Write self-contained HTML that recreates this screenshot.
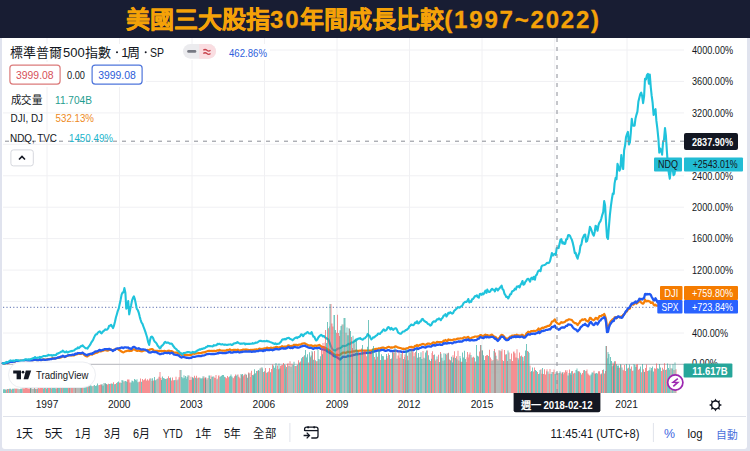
<!DOCTYPE html>
<html lang="zh-TW"><head><meta charset="utf-8">
<style>
html,body{margin:0;padding:0;}
body{width:750px;height:451px;overflow:hidden;background:#e0e3ee;position:relative;font-family:"Liberation Sans",sans-serif;}
#panel{position:absolute;left:2px;top:38px;width:745px;height:410.5px;background:#fff;border-radius:0 0 3px 3px;}
#banner{position:absolute;left:0;top:0;width:750px;height:38px;background:#181d33;}
#title{position:absolute;left:126px;top:4px;font-size:24px;font-weight:700;color:#f5a208;-webkit-text-stroke:0.3px #f5a208;white-space:nowrap;line-height:32px;letter-spacing:0px;}
#title span{letter-spacing:1.8px;}
svg{position:absolute;left:0;top:0;}
.t{font-family:"Liberation Sans",sans-serif;}
</style></head><body>
<div id="panel"></div>
<div id="banner"><div id="title">美國三大股指<span>30</span>年間成長比較<span>(1997~2022)</span></div></div>
<svg width="750" height="451" viewBox="0 0 750 451">
  <g stroke="#f0f0f3" stroke-width="1"><line x1="3" x2="684" y1="333.0" y2="333.0"/><line x1="3" x2="684" y1="301.5" y2="301.5"/><line x1="3" x2="684" y1="270.1" y2="270.1"/><line x1="3" x2="684" y1="238.6" y2="238.6"/><line x1="3" x2="684" y1="207.2" y2="207.2"/><line x1="3" x2="684" y1="175.8" y2="175.8"/><line x1="3" x2="684" y1="144.3" y2="144.3"/><line x1="3" x2="684" y1="112.9" y2="112.9"/><line x1="3" x2="684" y1="81.4" y2="81.4"/><line x1="3" x2="684" y1="50.0" y2="50.0"/><line x1="47.0" x2="47.0" y1="38" y2="393"/><line x1="119.5" x2="119.5" y1="38" y2="393"/><line x1="192.0" x2="192.0" y1="38" y2="393"/><line x1="264.5" x2="264.5" y1="38" y2="393"/><line x1="337.0" x2="337.0" y1="38" y2="393"/><line x1="409.5" x2="409.5" y1="38" y2="393"/><line x1="482.0" x2="482.0" y1="38" y2="393"/><line x1="554.7" x2="554.7" y1="38" y2="393"/><line x1="627.0" x2="627.0" y1="38" y2="393"/></g>
  <line x1="3" x2="684" y1="364.4" y2="364.4" stroke="#c2c3c8" stroke-width="1.2"/>
  <line x1="3" x2="656" y1="307.3" y2="307.3" stroke="#5a6fb0" stroke-width="1" stroke-dasharray="1.2 2.2"/>
  <g fill="none" stroke-linejoin="round" stroke-linecap="round">
    <path d="M2.7 363.3 L2.8 363.3 L3.8 363.5 L4.8 363.3 L5.7 363.1 L6.6 362.8 L7.6 363.1 L8.5 362.5 L9.5 362.1 L10.4 361.8 L11.4 361.8 L12.3 361.7 L13.3 361.5 L14.2 361.7 L15.2 361.4 L16.1 360.8 L17.1 361.1 L18.1 361.0 L19.0 360.9 L19.9 361.1 L20.9 360.6 L21.8 360.9 L22.8 360.9 L23.8 360.8 L24.7 360.2 L25.6 360.1 L26.6 360.2 L27.5 360.3 L28.5 360.4 L29.4 360.9 L30.4 361.0 L31.3 360.3 L32.3 360.7 L33.2 360.2 L34.2 359.5 L35.1 359.5 L36.1 359.9 L37.0 360.3 L38.0 360.0 L38.9 360.2 L39.9 359.4 L40.9 360.1 L41.8 359.9 L42.8 359.6 L43.7 359.4 L44.6 359.7 L45.6 359.7 L46.5 359.5 L47.5 359.2 L48.4 359.2 L49.4 359.0 L50.3 358.8 L51.3 358.8 L52.2 358.2 L53.2 358.4 L54.1 358.3 L55.1 358.5 L56.0 358.3 L57.0 358.1 L57.9 357.7 L58.9 357.9 L59.8 357.7 L60.8 357.4 L61.8 356.9 L62.7 356.2 L63.6 356.6 L64.6 357.1 L65.5 356.7 L66.5 356.2 L67.5 355.8 L68.4 355.2 L69.3 355.4 L70.3 355.5 L71.2 355.4 L72.2 355.5 L73.1 355.5 L74.1 355.4 L75.0 354.9 L76.0 354.1 L77.0 354.3 L77.9 353.2 L78.8 353.9 L79.8 354.0 L80.8 353.9 L81.7 353.5 L82.6 352.9 L83.6 354.3 L84.5 355.1 L85.5 355.9 L86.5 356.3 L87.4 356.4 L88.3 355.4 L89.3 355.1 L90.2 354.3 L91.2 354.5 L92.1 354.7 L93.1 353.9 L94.0 353.7 L95.0 353.2 L95.9 352.8 L96.9 352.7 L97.8 352.2 L98.8 351.6 L99.8 351.1 L100.7 351.4 L101.6 351.2 L102.6 350.6 L103.5 350.6 L104.5 350.0 L105.4 350.0 L106.4 350.4 L107.3 350.6 L108.3 350.4 L109.2 349.4 L110.2 350.0 L111.1 349.7 L112.1 350.0 L113.0 350.3 L114.0 349.5 L114.9 349.6 L115.9 348.8 L116.8 348.9 L117.8 348.9 L118.8 349.8 L119.7 350.3 L120.6 350.9 L121.6 351.7 L122.5 351.9 L123.5 352.4 L124.4 351.9 L125.4 351.3 L126.3 351.1 L127.3 350.9 L128.2 350.4 L129.2 351.1 L130.2 350.7 L131.1 351.0 L132.0 350.6 L133.0 349.2 L133.9 349.4 L134.9 349.7 L135.8 350.3 L136.8 350.9 L137.8 350.8 L138.7 350.4 L139.7 351.0 L140.6 351.1 L141.5 351.3 L142.5 351.1 L143.4 350.8 L144.4 350.4 L145.3 350.3 L146.3 350.3 L147.2 349.9 L148.2 350.0 L149.2 350.0 L150.1 349.4 L151.0 349.3 L152.0 349.0 L152.9 349.5 L153.9 350.7 L154.8 350.8 L155.8 350.8 L156.8 350.9 L157.7 350.9 L158.7 351.0 L159.6 350.9 L160.5 351.1 L161.5 350.9 L162.4 351.2 L163.4 351.0 L164.3 350.9 L165.3 351.2 L166.2 351.3 L167.2 351.1 L168.2 350.8 L169.1 350.7 L170.0 351.2 L171.0 351.1 L171.9 351.1 L172.9 351.7 L173.8 352.5 L174.8 352.6 L175.8 352.6 L176.7 352.6 L177.7 352.8 L178.6 353.0 L179.5 353.7 L180.5 354.2 L181.4 354.8 L182.4 354.6 L183.3 354.3 L184.3 354.8 L185.2 354.9 L186.2 355.1 L187.1 354.8 L188.1 355.0 L189.0 355.1 L190.0 354.8 L190.9 355.2 L191.9 354.2 L192.8 353.6 L193.8 353.7 L194.8 353.9 L195.7 353.4 L196.6 353.5 L197.6 353.2 L198.5 353.0 L199.5 353.1 L200.4 353.1 L201.4 353.0 L202.3 352.6 L203.3 352.4 L204.2 352.4 L205.2 352.1 L206.1 351.6 L207.1 351.3 L208.0 351.0 L209.0 350.8 L209.9 350.9 L210.9 351.0 L211.8 350.9 L212.8 351.1 L213.8 350.8 L214.7 350.9 L215.6 351.1 L216.6 350.8 L217.5 350.3 L218.5 350.7 L219.4 349.8 L220.4 350.4 L221.3 350.5 L222.3 350.7 L223.2 350.5 L224.2 350.8 L225.1 350.5 L226.1 350.6 L227.0 349.9 L228.0 350.0 L228.9 349.7 L229.9 349.3 L230.8 349.9 L231.8 350.5 L232.8 350.1 L233.7 349.8 L234.6 349.8 L235.6 349.9 L236.5 350.0 L237.5 349.7 L238.4 349.8 L239.4 350.7 L240.3 350.6 L241.3 350.1 L242.2 350.1 L243.2 349.6 L244.1 349.6 L245.1 350.1 L246.0 349.3 L247.0 350.0 L247.9 349.7 L248.9 350.0 L249.8 350.0 L250.8 349.8 L251.8 350.1 L252.7 349.8 L253.6 349.9 L254.6 349.7 L255.5 349.6 L256.5 349.4 L257.4 349.5 L258.4 349.2 L259.3 348.6 L260.3 348.8 L261.2 349.0 L262.2 348.8 L263.1 349.1 L264.1 348.4 L265.1 348.7 L266.0 348.1 L266.9 347.6 L267.9 348.1 L268.8 348.2 L269.8 348.2 L270.8 347.7 L271.7 347.8 L272.6 348.2 L273.6 347.7 L274.6 347.8 L275.5 347.0 L276.4 347.2 L277.4 347.1 L278.3 347.5 L279.3 347.5 L280.2 347.0 L281.2 346.7 L282.1 346.2 L283.1 346.6 L284.1 346.8 L285.0 346.4 L285.9 347.0 L286.9 346.4 L287.8 345.6 L288.8 345.3 L289.8 346.0 L290.7 346.0 L291.6 345.9 L292.6 346.3 L293.6 344.9 L294.5 344.8 L295.4 344.8 L296.4 344.8 L297.3 345.1 L298.3 345.0 L299.2 344.6 L300.2 344.6 L301.1 344.3 L302.1 343.7 L303.1 343.5 L304.0 343.4 L304.9 343.4 L305.9 344.0 L306.8 344.4 L307.8 344.9 L308.8 345.4 L309.7 345.6 L310.6 345.4 L311.6 345.4 L312.6 346.2 L313.5 346.6 L314.4 345.5 L315.4 345.5 L316.3 345.9 L317.3 345.7 L318.2 345.4 L319.2 344.9 L320.1 345.5 L321.1 346.3 L322.1 346.9 L323.0 347.0 L323.9 347.1 L324.9 347.8 L325.8 348.1 L326.8 348.9 L327.8 349.3 L328.7 350.0 L329.6 350.4 L330.6 351.3 L331.6 352.1 L332.5 352.9 L333.4 353.9 L334.4 354.6 L335.3 355.0 L336.3 354.9 L337.2 354.7 L338.2 355.2 L339.1 355.2 L340.1 354.8 L341.1 353.8 L342.0 353.3 L342.9 352.6 L343.9 352.5 L344.8 352.6 L345.8 352.8 L346.8 352.4 L347.7 351.7 L348.6 351.8 L349.6 352.1 L350.6 352.2 L351.5 351.7 L352.4 351.6 L353.4 351.4 L354.3 351.4 L355.3 351.0 L356.2 350.6 L357.2 351.1 L358.1 350.9 L359.1 350.8 L360.1 350.5 L361.0 350.7 L361.9 350.7 L362.9 350.5 L363.8 350.5 L364.8 350.7 L365.8 350.5 L366.7 350.6 L367.6 350.5 L368.6 350.5 L369.5 350.6 L370.5 350.7 L371.4 350.8 L372.4 350.0 L373.3 349.5 L374.3 349.5 L375.2 349.0 L376.2 348.8 L377.1 348.8 L378.1 348.6 L379.0 348.3 L380.0 348.5 L380.9 348.1 L381.9 347.7 L382.8 347.7 L383.8 347.6 L384.8 348.2 L385.7 348.2 L386.6 347.8 L387.6 347.2 L388.5 346.9 L389.5 347.0 L390.4 347.7 L391.4 347.4 L392.3 347.6 L393.3 347.3 L394.2 347.1 L395.2 346.4 L396.1 346.6 L397.1 347.1 L398.0 347.6 L399.0 347.7 L399.9 348.0 L400.9 348.1 L401.8 348.6 L402.8 348.8 L403.8 348.7 L404.7 348.9 L405.6 348.8 L406.6 348.3 L407.5 348.4 L408.5 347.7 L409.4 347.0 L410.4 347.1 L411.3 346.8 L412.3 347.1 L413.2 347.6 L414.2 346.8 L415.1 345.9 L416.1 345.9 L417.0 345.0 L418.0 346.1 L418.9 345.5 L419.9 344.9 L420.8 344.8 L421.8 344.3 L422.8 343.9 L423.7 344.0 L424.6 344.7 L425.6 344.8 L426.5 344.3 L427.5 343.7 L428.4 343.7 L429.4 343.6 L430.3 344.1 L431.3 343.7 L432.2 343.1 L433.2 342.3 L434.1 342.5 L435.1 343.1 L436.0 342.6 L437.0 341.9 L437.9 342.1 L438.9 342.2 L439.8 342.0 L440.8 342.2 L441.8 342.1 L442.7 342.0 L443.6 340.6 L444.6 340.8 L445.5 340.0 L446.5 341.1 L447.4 340.9 L448.4 339.5 L449.3 340.0 L450.3 339.8 L451.2 340.1 L452.2 340.1 L453.1 339.9 L454.1 339.3 L455.0 339.6 L456.0 339.3 L456.9 338.9 L457.9 338.6 L458.8 338.7 L459.8 338.5 L460.8 338.3 L461.7 338.5 L462.6 338.4 L463.6 337.6 L464.5 337.3 L465.5 337.6 L466.4 337.8 L467.4 337.0 L468.3 336.9 L469.3 338.6 L470.2 338.3 L471.2 337.9 L472.1 337.5 L473.1 337.4 L474.0 336.9 L475.0 336.5 L475.9 336.5 L476.9 336.8 L477.8 336.4 L478.8 336.3 L479.8 335.5 L480.7 335.0 L481.6 335.5 L482.6 335.9 L483.5 336.0 L484.5 335.2 L485.4 334.6 L486.4 335.7 L487.3 335.0 L488.3 335.6 L489.2 335.5 L490.2 335.6 L491.1 334.9 L492.1 334.7 L493.0 335.5 L494.0 336.3 L494.9 336.9 L495.9 337.2 L496.8 338.6 L497.8 339.3 L498.8 338.4 L499.7 337.4 L500.6 335.8 L501.6 334.9 L502.5 335.0 L503.5 335.9 L504.4 337.0 L505.4 337.9 L506.3 338.6 L507.3 338.6 L508.2 338.2 L509.2 337.7 L510.1 336.5 L511.1 336.4 L512.0 335.7 L513.0 335.6 L513.9 335.8 L514.9 335.2 L515.9 335.8 L516.8 334.7 L517.8 335.7 L518.7 335.3 L519.6 335.8 L520.6 335.5 L521.5 334.8 L522.5 334.9 L523.4 335.8 L524.4 336.4 L525.4 335.7 L526.3 333.6 L527.2 332.9 L528.2 331.7 L529.1 332.2 L530.1 332.1 L531.0 331.2 L532.0 331.0 L532.9 331.1 L533.9 330.8 L534.9 331.1 L535.8 330.8 L536.8 330.4 L537.7 329.7 L538.6 328.5 L539.6 330.3 L540.5 329.3 L541.5 328.1 L542.4 327.6 L543.4 328.3 L544.4 327.3 L545.3 326.9 L546.2 326.8 L547.2 326.2 L548.1 325.9 L549.1 325.8 L550.0 325.1 L551.0 323.8 L551.9 321.6 L552.9 321.5 L553.9 320.5 L554.8 319.4 L555.8 321.8 L556.7 322.5 L557.6 323.6 L558.6 324.0 L559.5 324.1 L560.5 322.9 L561.4 322.1 L562.4 322.7 L563.4 322.4 L564.3 322.1 L565.2 321.7 L566.2 320.3 L567.1 320.5 L568.1 319.8 L569.0 319.3 L570.0 319.5 L570.9 319.7 L571.9 320.1 L572.9 321.4 L573.8 322.4 L574.8 323.2 L575.7 323.0 L576.6 323.9 L577.6 325.1 L578.5 323.6 L579.5 322.7 L580.4 320.8 L581.4 320.4 L582.4 319.4 L583.3 319.9 L584.2 319.4 L585.2 319.1 L586.1 320.6 L587.1 321.1 L588.0 321.6 L589.0 320.1 L589.9 317.8 L590.9 318.1 L591.9 319.5 L592.8 319.8 L593.8 320.3 L594.7 319.5 L595.6 317.9 L596.6 318.1 L597.5 319.3 L598.5 318.0 L599.4 316.2 L600.4 316.0 L601.4 316.1 L602.3 315.1 L603.2 315.1 L604.2 313.9 L605.1 316.0 L606.1 319.6 L607.0 328.6 L608.0 328.7 L608.9 325.3 L609.9 322.8 L610.9 321.0 L611.8 320.3 L612.8 319.1 L613.7 320.3 L614.6 317.4 L615.6 317.4 L616.5 318.3 L617.5 316.8 L618.4 316.8 L619.4 317.4 L620.4 316.9 L621.3 316.4 L622.2 316.7 L623.2 314.7 L624.1 314.4 L625.1 313.1 L626.0 311.8 L627.0 311.4 L627.9 309.4 L628.9 309.0 L629.9 308.5 L630.8 305.7 L631.8 304.3 L632.7 304.4 L633.6 304.7 L634.6 303.3 L635.5 302.6 L636.5 303.7 L637.4 303.0 L638.4 302.2 L639.4 300.3 L640.3 301.4 L641.2 302.6 L642.2 303.4 L643.1 303.7 L644.1 302.6 L645.0 299.6 L646.0 301.1 L646.9 301.4 L647.9 300.8 L648.9 301.3 L649.8 301.3 L650.8 302.9 L651.7 302.6 L652.6 302.3 L653.6 304.6 L654.5 305.3 L655.5 304.7 L656.4 305.7 L657.4 305.5 L658.4 305.9 L659.3 306.4 L660.2 305.5 L661.2 306.2 L662.1 306.2 L663.1 305.2 L664.0 304.9 L665.0 305.2 L665.9 303.8 L666.9 303.3 L667.9 303.9 L668.8 303.4 L669.8 303.8 L670.7 303.5 L671.6 302.3 L672.6 302.8 L673.5 303.7 L674.5 304.6 L675.4 304.4 L676.0 304.7" stroke="#f67f06" stroke-width="2.2"/>
    <path d="M2.7 363.3 L2.8 363.2 L3.8 363.3 L4.8 363.4 L5.7 362.8 L6.6 362.7 L7.6 362.8 L8.5 362.4 L9.5 362.2 L10.4 362.0 L11.4 361.8 L12.3 361.8 L13.3 361.5 L14.2 361.6 L15.2 361.3 L16.1 360.6 L17.1 360.8 L18.1 361.0 L19.0 361.1 L19.9 361.0 L20.9 360.9 L21.8 361.0 L22.8 360.7 L23.8 360.8 L24.7 360.3 L25.6 360.0 L26.6 360.1 L27.5 360.7 L28.5 360.5 L29.4 361.0 L30.4 361.1 L31.3 360.6 L32.3 360.7 L33.2 360.0 L34.2 359.9 L35.1 359.5 L36.1 359.9 L37.0 360.2 L38.0 360.3 L38.9 360.0 L39.9 359.3 L40.9 360.3 L41.8 359.9 L42.8 359.7 L43.7 359.6 L44.6 359.8 L45.6 359.8 L46.5 359.7 L47.5 359.6 L48.4 359.4 L49.4 359.3 L50.3 359.1 L51.3 359.1 L52.2 358.7 L53.2 358.7 L54.1 358.5 L55.1 358.7 L56.0 358.3 L57.0 357.9 L57.9 357.5 L58.9 357.5 L59.8 357.2 L60.8 356.6 L61.8 356.6 L62.7 355.7 L63.6 356.1 L64.6 356.9 L65.5 356.4 L66.5 356.0 L67.5 355.7 L68.4 355.4 L69.3 355.2 L70.3 355.2 L71.2 355.1 L72.2 354.7 L73.1 354.7 L74.1 354.9 L75.0 353.9 L76.0 353.6 L77.0 353.8 L77.9 353.0 L78.8 353.2 L79.8 353.2 L80.8 353.4 L81.7 353.0 L82.6 352.6 L83.6 353.5 L84.5 354.1 L85.5 354.7 L86.5 354.8 L87.4 355.3 L88.3 354.3 L89.3 354.2 L90.2 353.8 L91.2 353.6 L92.1 353.9 L93.1 352.9 L94.0 352.4 L95.0 351.6 L95.9 351.5 L96.9 351.4 L97.8 351.1 L98.8 350.4 L99.8 349.9 L100.7 350.6 L101.6 350.2 L102.6 349.8 L103.5 349.8 L104.5 349.1 L105.4 349.2 L106.4 349.2 L107.3 349.1 L108.3 349.3 L109.2 348.8 L110.2 349.4 L111.1 349.7 L112.1 350.3 L113.0 351.0 L114.0 350.1 L114.9 349.8 L115.9 348.9 L116.8 348.7 L117.8 348.3 L118.8 348.3 L119.7 348.1 L120.6 348.0 L121.6 347.5 L122.5 347.6 L123.5 348.1 L124.4 347.4 L125.4 347.3 L126.3 347.5 L127.3 347.6 L128.2 347.5 L129.2 348.6 L130.2 348.4 L131.1 349.1 L132.0 348.4 L133.0 347.0 L133.9 346.8 L134.9 347.3 L135.8 348.0 L136.8 348.7 L137.8 348.6 L138.7 348.2 L139.7 348.8 L140.6 349.2 L141.5 349.6 L142.5 349.3 L143.4 349.4 L144.4 349.6 L145.3 349.7 L146.3 350.3 L147.2 350.6 L148.2 351.8 L149.2 352.4 L150.1 352.5 L151.0 352.4 L152.0 352.0 L152.9 351.7 L153.9 352.0 L154.8 352.1 L155.8 352.0 L156.8 352.3 L157.7 353.2 L158.7 353.4 L159.6 354.1 L160.5 354.2 L161.5 353.7 L162.4 353.7 L163.4 353.6 L164.3 352.9 L165.3 352.8 L166.2 352.9 L167.2 353.1 L168.2 352.7 L169.1 352.8 L170.0 353.5 L171.0 353.0 L171.9 352.7 L172.9 353.3 L173.8 354.4 L174.8 354.7 L175.8 354.8 L176.7 355.0 L177.7 355.1 L178.6 355.4 L179.5 356.3 L180.5 356.9 L181.4 357.5 L182.4 357.1 L183.3 356.6 L184.3 357.2 L185.2 357.4 L186.2 357.8 L187.1 357.6 L188.1 357.8 L189.0 358.2 L190.0 357.8 L190.9 358.0 L191.9 357.4 L192.8 356.6 L193.8 356.8 L194.8 356.8 L195.7 356.5 L196.6 356.3 L197.6 356.2 L198.5 356.0 L199.5 356.1 L200.4 356.1 L201.4 356.1 L202.3 355.6 L203.3 355.5 L204.2 355.3 L205.2 355.0 L206.1 354.4 L207.1 354.2 L208.0 354.0 L209.0 353.9 L209.9 353.9 L210.9 354.1 L211.8 354.0 L212.8 354.1 L213.8 353.9 L214.7 354.0 L215.6 353.8 L216.6 353.7 L217.5 353.1 L218.5 353.3 L219.4 352.6 L220.4 352.9 L221.3 352.8 L222.3 353.0 L223.2 353.1 L224.2 353.2 L225.1 353.2 L226.1 353.0 L227.0 352.6 L228.0 352.5 L228.9 352.1 L229.9 351.7 L230.8 352.6 L231.8 352.6 L232.8 352.5 L233.7 351.9 L234.6 352.1 L235.6 352.1 L236.5 352.2 L237.5 351.7 L238.4 351.9 L239.4 352.5 L240.3 352.3 L241.3 351.9 L242.2 352.0 L243.2 351.6 L244.1 351.6 L245.1 351.7 L246.0 351.4 L247.0 351.6 L247.9 351.7 L248.9 351.4 L249.8 351.5 L250.8 351.5 L251.8 351.9 L252.7 351.5 L253.6 351.5 L254.6 351.5 L255.5 351.5 L256.5 351.2 L257.4 351.2 L258.4 351.1 L259.3 350.5 L260.3 350.7 L261.2 350.6 L262.2 350.7 L263.1 351.1 L264.1 350.1 L265.1 350.7 L266.0 350.0 L266.9 349.7 L267.9 350.2 L268.8 350.1 L269.8 350.0 L270.8 349.7 L271.7 349.8 L272.6 350.3 L273.6 349.7 L274.6 349.5 L275.5 348.9 L276.4 349.0 L277.4 349.1 L278.3 349.4 L279.3 349.3 L280.2 348.9 L281.2 348.5 L282.1 348.2 L283.1 348.5 L284.1 348.5 L285.0 348.6 L285.9 348.5 L286.9 348.1 L287.8 347.4 L288.8 347.0 L289.8 347.9 L290.7 348.0 L291.6 347.6 L292.6 348.1 L293.6 347.3 L294.5 346.9 L295.4 347.2 L296.4 347.4 L297.3 347.5 L298.3 347.7 L299.2 347.4 L300.2 347.0 L301.1 346.4 L302.1 346.3 L303.1 345.9 L304.0 345.8 L304.9 345.7 L305.9 346.3 L306.8 346.6 L307.8 347.3 L308.8 347.7 L309.7 347.8 L310.6 347.7 L311.6 347.8 L312.6 348.6 L313.5 348.9 L314.4 348.1 L315.4 348.1 L316.3 348.1 L317.3 348.3 L318.2 347.8 L319.2 347.7 L320.1 348.4 L321.1 349.0 L322.1 349.3 L323.0 349.4 L323.9 349.4 L324.9 350.0 L325.8 350.2 L326.8 351.1 L327.8 351.7 L328.7 352.1 L329.6 353.1 L330.6 353.1 L331.6 354.0 L332.5 354.6 L333.4 355.7 L334.4 356.3 L335.3 356.7 L336.3 357.0 L337.2 357.3 L338.2 358.1 L339.1 358.7 L340.1 359.5 L341.1 358.4 L342.0 357.8 L342.9 356.7 L343.9 356.8 L344.8 356.9 L345.8 356.8 L346.8 356.6 L347.7 356.0 L348.6 355.9 L349.6 356.2 L350.6 355.8 L351.5 355.5 L352.4 355.5 L353.4 355.0 L354.3 354.9 L355.3 354.6 L356.2 354.0 L357.2 354.4 L358.1 354.1 L359.1 354.0 L360.1 353.6 L361.0 353.6 L361.9 353.5 L362.9 353.4 L363.8 353.0 L364.8 353.2 L365.8 352.8 L366.7 353.0 L367.6 352.9 L368.6 352.8 L369.5 352.6 L370.5 353.0 L371.4 352.7 L372.4 352.1 L373.3 351.6 L374.3 351.7 L375.2 351.0 L376.2 351.0 L377.1 350.8 L378.1 350.4 L379.0 350.6 L380.0 350.5 L380.9 350.1 L381.9 349.8 L382.8 349.8 L383.8 350.0 L384.8 350.7 L385.7 350.9 L386.6 350.7 L387.6 350.2 L388.5 350.1 L389.5 350.3 L390.4 351.0 L391.4 350.8 L392.3 351.3 L393.3 351.0 L394.2 351.0 L395.2 350.6 L396.1 350.7 L397.1 351.0 L398.0 351.4 L399.0 351.4 L399.9 351.3 L400.9 351.5 L401.8 352.0 L402.8 351.8 L403.8 351.7 L404.7 351.9 L405.6 351.7 L406.6 351.6 L407.5 351.4 L408.5 350.7 L409.4 350.1 L410.4 350.1 L411.3 349.9 L412.3 350.1 L413.2 350.3 L414.2 349.7 L415.1 348.8 L416.1 348.7 L417.0 348.2 L418.0 349.0 L418.9 348.5 L419.9 348.0 L420.8 347.8 L421.8 347.2 L422.8 346.9 L423.7 347.2 L424.6 347.4 L425.6 347.6 L426.5 346.8 L427.5 346.5 L428.4 346.4 L429.4 346.3 L430.3 346.7 L431.3 346.5 L432.2 345.6 L433.2 345.1 L434.1 345.1 L435.1 345.6 L436.0 345.2 L437.0 344.5 L437.9 344.8 L438.9 344.6 L439.8 344.4 L440.8 344.9 L441.8 344.9 L442.7 344.4 L443.6 343.1 L444.6 343.7 L445.5 343.1 L446.5 343.5 L447.4 343.4 L448.4 342.8 L449.3 343.2 L450.3 342.8 L451.2 343.0 L452.2 343.4 L453.1 342.9 L454.1 342.2 L455.0 342.3 L456.0 342.3 L456.9 341.9 L457.9 341.7 L458.8 341.4 L459.8 341.8 L460.8 341.4 L461.7 341.6 L462.6 341.2 L463.6 340.3 L464.5 340.1 L465.5 339.9 L466.4 340.3 L467.4 339.7 L468.3 339.4 L469.3 340.4 L470.2 340.5 L471.2 340.2 L472.1 340.0 L473.1 340.3 L474.0 340.4 L475.0 340.1 L475.9 340.1 L476.9 339.7 L477.8 338.9 L478.8 338.7 L479.8 337.4 L480.7 337.0 L481.6 337.6 L482.6 337.8 L483.5 338.1 L484.5 337.1 L485.4 336.7 L486.4 337.3 L487.3 336.7 L488.3 337.3 L489.2 337.4 L490.2 337.2 L491.1 336.8 L492.1 336.8 L493.0 336.9 L494.0 337.8 L494.9 338.8 L495.9 338.7 L496.8 340.0 L497.8 341.0 L498.8 339.8 L499.7 339.0 L500.6 337.4 L501.6 336.5 L502.5 336.8 L503.5 336.8 L504.4 338.6 L505.4 339.3 L506.3 340.1 L507.3 340.1 L508.2 339.9 L509.2 338.9 L510.1 337.7 L511.1 338.0 L512.0 337.0 L513.0 337.2 L513.9 336.9 L514.9 336.3 L515.9 337.2 L516.8 336.4 L517.8 336.9 L518.7 336.4 L519.6 337.1 L520.6 336.8 L521.5 336.6 L522.5 336.6 L523.4 337.5 L524.4 337.7 L525.4 337.2 L526.3 335.9 L527.2 335.1 L528.2 334.2 L529.1 334.5 L530.1 334.6 L531.0 333.9 L532.0 333.7 L532.9 333.8 L533.9 333.5 L534.9 334.0 L535.8 333.4 L536.8 333.1 L537.7 332.7 L538.6 331.7 L539.6 333.0 L540.5 332.4 L541.5 331.1 L542.4 331.0 L543.4 331.0 L544.4 330.6 L545.3 330.3 L546.2 329.8 L547.2 329.9 L548.1 329.6 L549.1 329.2 L550.0 329.5 L551.0 328.2 L551.9 326.9 L552.9 327.2 L553.9 326.4 L554.8 325.6 L555.8 327.8 L556.7 328.1 L557.6 328.8 L558.6 329.8 L559.5 329.4 L560.5 328.3 L561.4 327.6 L562.4 327.5 L563.4 327.5 L564.3 327.5 L565.2 326.8 L566.2 325.8 L567.1 325.9 L568.1 324.4 L569.0 324.6 L570.0 324.7 L570.9 324.8 L571.9 325.8 L572.9 327.5 L573.8 328.3 L574.8 329.1 L575.7 329.3 L576.6 330.3 L577.6 331.4 L578.5 330.3 L579.5 329.4 L580.4 327.6 L581.4 326.6 L582.4 325.8 L583.3 324.9 L584.2 324.9 L585.2 323.8 L586.1 325.1 L587.1 325.6 L588.0 326.3 L589.0 324.6 L589.9 322.7 L590.9 322.0 L591.9 323.3 L592.8 324.4 L593.8 325.0 L594.7 324.3 L595.6 322.7 L596.6 323.0 L597.5 324.5 L598.5 322.9 L599.4 321.0 L600.4 320.5 L601.4 319.1 L602.3 318.6 L603.2 318.1 L604.2 317.0 L605.1 318.0 L606.1 322.5 L607.0 332.1 L608.0 331.9 L608.9 327.7 L609.9 324.9 L610.9 323.4 L611.8 322.1 L612.8 320.9 L613.7 321.1 L614.6 318.5 L615.6 317.4 L616.5 318.0 L617.5 316.7 L618.4 316.3 L619.4 316.9 L620.4 317.4 L621.3 317.8 L622.2 317.6 L623.2 315.8 L624.1 314.5 L625.1 312.7 L626.0 311.2 L627.0 310.3 L627.9 308.3 L628.9 307.9 L629.9 307.0 L630.8 305.1 L631.8 303.4 L632.7 303.8 L633.6 302.9 L634.6 302.6 L635.5 301.5 L636.5 302.7 L637.4 301.4 L638.4 300.8 L639.4 298.7 L640.3 299.3 L641.2 298.8 L642.2 299.6 L643.1 298.6 L644.1 298.1 L645.0 294.2 L646.0 294.0 L646.9 294.6 L647.9 294.0 L648.9 294.3 L649.8 294.0 L650.8 294.9 L651.7 297.0 L652.6 298.4 L653.6 300.3 L654.5 300.4 L655.5 298.2 L656.4 299.8 L657.4 302.3 L658.4 302.4 L659.3 303.6 L660.2 303.1 L661.2 303.7 L662.1 305.1 L663.1 304.4 L664.0 305.0 L665.0 305.0 L665.9 304.1 L666.9 303.7 L667.9 305.4 L668.8 303.5 L669.8 303.4 L670.7 303.1 L671.6 303.2 L672.6 303.3 L673.5 305.6 L674.5 307.0 L675.4 307.3 L676.0 307.5" stroke="#2058f2" stroke-width="2.3"/>
    <path d="M2.7 363.3 L2.8 363.3 L3.8 363.6 L4.8 362.9 L5.7 362.8 L6.6 361.9 L7.6 362.2 L8.5 361.7 L9.5 361.0 L10.4 360.4 L11.4 360.7 L12.3 360.8 L13.3 360.5 L14.2 361.0 L15.2 360.4 L16.1 360.0 L17.1 360.3 L18.1 360.3 L19.0 360.6 L19.9 360.7 L20.9 360.5 L21.8 360.7 L22.8 360.4 L23.8 360.4 L24.7 359.5 L25.6 359.3 L26.6 359.4 L27.5 359.7 L28.5 359.2 L29.4 359.8 L30.4 359.3 L31.3 358.9 L32.3 358.7 L33.2 358.0 L34.2 358.0 L35.1 357.0 L36.1 358.0 L37.0 358.0 L38.0 357.5 L38.9 357.6 L39.9 356.9 L40.9 357.6 L41.8 356.9 L42.8 356.4 L43.7 356.0 L44.6 356.0 L45.6 356.1 L46.5 355.7 L47.5 355.7 L48.4 354.8 L49.4 355.2 L50.3 355.3 L51.3 355.1 L52.2 355.8 L53.2 355.1 L54.1 355.2 L55.1 355.1 L56.0 355.1 L57.0 353.5 L57.9 353.6 L58.9 353.0 L59.8 352.6 L60.8 351.9 L61.8 351.8 L62.7 350.5 L63.6 351.4 L64.6 352.2 L65.5 352.2 L66.5 351.4 L67.5 352.5 L68.4 352.2 L69.3 351.6 L70.3 351.5 L71.2 350.9 L72.2 351.2 L73.1 350.7 L74.1 350.5 L75.0 349.5 L76.0 348.8 L77.0 348.7 L77.9 347.4 L78.8 348.2 L79.8 347.2 L80.8 346.1 L81.7 346.2 L82.6 345.3 L83.6 346.5 L84.5 347.3 L85.5 348.1 L86.5 348.3 L87.4 348.6 L88.3 347.1 L89.3 346.0 L90.2 344.7 L91.2 342.6 L92.1 341.3 L93.1 339.8 L94.0 337.6 L95.0 335.6 L95.9 334.3 L96.9 334.3 L97.8 332.7 L98.8 331.9 L99.8 331.3 L100.7 332.8 L101.6 333.3 L102.6 331.9 L103.5 331.1 L104.5 330.2 L105.4 329.4 L106.4 329.8 L107.3 329.5 L108.3 328.1 L109.2 325.7 L110.2 325.8 L111.1 324.8 L112.1 326.5 L113.0 328.1 L114.0 325.5 L114.9 322.0 L115.9 317.5 L116.8 314.5 L117.8 310.9 L118.8 308.4 L119.7 303.9 L120.6 299.9 L121.6 294.6 L122.5 292.6 L123.5 292.4 L124.4 288.1 L125.4 293.0 L126.3 308.7 L127.3 307.4 L128.2 301.1 L129.2 314.4 L130.2 309.3 L131.1 305.2 L132.0 300.6 L133.0 297.9 L133.9 296.4 L134.9 299.4 L135.8 303.7 L136.8 308.9 L137.8 310.2 L138.7 312.5 L139.7 316.6 L140.6 319.7 L141.5 322.5 L142.5 323.9 L143.4 326.5 L144.4 329.2 L145.3 331.6 L146.3 334.8 L147.2 337.8 L148.2 342.2 L149.2 344.9 L150.1 339.9 L151.0 336.9 L152.0 336.6 L152.9 337.6 L153.9 340.2 L154.8 341.7 L155.8 342.5 L156.8 343.9 L157.7 345.7 L158.7 346.8 L159.6 348.3 L160.5 348.1 L161.5 346.0 L162.4 345.5 L163.4 344.4 L164.3 342.8 L165.3 341.9 L166.2 342.9 L167.2 342.5 L168.2 342.6 L169.1 343.2 L170.0 343.8 L171.0 343.6 L171.9 343.7 L172.9 345.5 L173.8 346.7 L174.8 348.0 L175.8 348.8 L176.7 349.6 L177.7 350.8 L178.6 351.0 L179.5 352.6 L180.5 352.7 L181.4 353.8 L182.4 354.3 L183.3 353.1 L184.3 353.0 L185.2 352.9 L186.2 352.5 L187.1 352.1 L188.1 352.0 L189.0 352.1 L190.0 352.4 L190.9 353.0 L191.9 352.5 L192.8 351.8 L193.8 352.4 L194.8 352.5 L195.7 351.6 L196.6 351.4 L197.6 350.2 L198.5 350.2 L199.5 349.3 L200.4 349.6 L201.4 348.9 L202.3 349.0 L203.3 348.4 L204.2 348.4 L205.2 347.9 L206.1 347.0 L207.1 346.7 L208.0 345.9 L209.0 346.3 L209.9 346.0 L210.9 346.2 L211.8 346.2 L212.8 346.4 L213.8 345.1 L214.7 345.6 L215.6 345.3 L216.6 345.2 L217.5 343.8 L218.5 344.2 L219.4 343.7 L220.4 344.2 L221.3 344.5 L222.3 344.1 L223.2 344.5 L224.2 344.9 L225.1 344.5 L226.1 344.7 L227.0 344.9 L228.0 344.8 L228.9 344.5 L229.9 344.5 L230.8 344.4 L231.8 345.0 L232.8 344.5 L233.7 343.5 L234.6 343.4 L235.6 343.1 L236.5 342.9 L237.5 342.0 L238.4 342.9 L239.4 343.4 L240.3 343.9 L241.3 343.5 L242.2 343.6 L243.2 343.5 L244.1 343.3 L245.1 344.3 L246.0 343.6 L247.0 344.0 L247.9 343.9 L248.9 343.9 L249.8 343.9 L250.8 343.8 L251.8 343.8 L252.7 343.1 L253.6 343.6 L254.6 343.3 L255.5 342.6 L256.5 342.8 L257.4 342.5 L258.4 341.7 L259.3 341.1 L260.3 340.8 L261.2 340.9 L262.2 341.2 L263.1 341.3 L264.1 341.1 L265.1 341.3 L266.0 341.3 L266.9 340.7 L267.9 341.5 L268.8 341.4 L269.8 341.9 L270.8 342.3 L271.7 342.6 L272.6 343.0 L273.6 343.6 L274.6 343.9 L275.5 343.3 L276.4 344.3 L277.4 343.9 L278.3 343.8 L279.3 343.5 L280.2 342.4 L281.2 341.4 L282.1 339.6 L283.1 339.2 L284.1 339.4 L285.0 338.8 L285.9 339.4 L286.9 338.2 L287.8 338.1 L288.8 337.7 L289.8 338.7 L290.7 339.1 L291.6 339.5 L292.6 340.3 L293.6 339.4 L294.5 338.4 L295.4 337.8 L296.4 337.4 L297.3 338.1 L298.3 337.1 L299.2 336.9 L300.2 336.1 L301.1 334.4 L302.1 334.6 L303.1 336.2 L304.0 334.7 L304.9 333.8 L305.9 333.5 L306.8 332.4 L307.8 332.1 L308.8 333.3 L309.7 333.5 L310.6 333.6 L311.6 332.2 L312.6 334.9 L313.5 336.8 L314.4 336.9 L315.4 339.3 L316.3 340.5 L317.3 339.5 L318.2 337.7 L319.2 336.5 L320.1 335.5 L321.1 334.8 L322.1 335.6 L323.0 336.4 L323.9 336.0 L324.9 337.3 L325.8 337.7 L326.8 338.8 L327.8 338.8 L328.7 340.1 L329.6 343.0 L330.6 345.3 L331.6 347.9 L332.5 349.1 L333.4 350.1 L334.4 350.3 L335.3 350.4 L336.3 350.1 L337.2 349.0 L338.2 348.5 L339.1 348.4 L340.1 348.2 L341.1 347.5 L342.0 346.8 L342.9 345.8 L343.9 346.1 L344.8 345.9 L345.8 345.7 L346.8 345.2 L347.7 344.5 L348.6 343.8 L349.6 344.3 L350.6 343.4 L351.5 342.4 L352.4 342.5 L353.4 342.4 L354.3 341.1 L355.3 341.0 L356.2 339.4 L357.2 339.6 L358.1 338.6 L359.1 338.7 L360.1 338.0 L361.0 339.0 L361.9 339.4 L362.9 339.7 L363.8 338.5 L364.8 338.3 L365.8 337.1 L366.7 336.5 L367.6 334.1 L368.6 335.3 L369.5 335.6 L370.5 338.0 L371.4 339.3 L372.4 338.5 L373.3 337.2 L374.3 337.4 L375.2 336.3 L376.2 335.6 L377.1 335.1 L378.1 333.5 L379.0 333.8 L380.0 333.9 L380.9 332.5 L381.9 331.8 L382.8 330.2 L383.8 329.4 L384.8 330.8 L385.7 330.5 L386.6 329.7 L387.6 327.7 L388.5 327.0 L389.5 328.2 L390.4 329.5 L391.4 327.8 L392.3 329.2 L393.3 329.9 L394.2 328.8 L395.2 328.4 L396.1 328.3 L397.1 330.0 L398.0 332.4 L399.0 333.2 L399.9 333.7 L400.9 333.7 L401.8 332.7 L402.8 331.6 L403.8 331.5 L404.7 331.2 L405.6 330.1 L406.6 330.0 L407.5 329.1 L408.5 328.3 L409.4 326.3 L410.4 325.6 L411.3 324.5 L412.3 325.0 L413.2 325.2 L414.2 324.4 L415.1 322.5 L416.1 323.0 L417.0 321.3 L418.0 323.4 L418.9 323.2 L419.9 321.6 L420.8 321.4 L421.8 319.2 L422.8 318.9 L423.7 320.5 L424.6 321.0 L425.6 322.0 L426.5 322.1 L427.5 323.5 L428.4 324.3 L429.4 324.3 L430.3 325.6 L431.3 325.1 L432.2 323.0 L433.2 321.7 L434.1 321.3 L435.1 321.7 L436.0 320.9 L437.0 319.2 L437.9 319.4 L438.9 318.4 L439.8 319.1 L440.8 320.2 L441.8 318.5 L442.7 317.7 L443.6 315.6 L444.6 315.5 L445.5 314.2 L446.5 316.5 L447.4 315.0 L448.4 312.8 L449.3 313.3 L450.3 312.2 L451.2 313.0 L452.2 313.6 L453.1 313.1 L454.1 310.8 L455.0 310.2 L456.0 309.1 L456.9 308.5 L457.9 307.1 L458.8 307.5 L459.8 307.6 L460.8 306.6 L461.7 306.3 L462.6 305.1 L463.6 303.0 L464.5 302.4 L465.5 301.7 L466.4 302.0 L467.4 301.0 L468.3 299.0 L469.3 302.5 L470.2 301.3 L471.2 301.8 L472.1 299.2 L473.1 298.9 L474.0 297.6 L475.0 296.1 L475.9 296.3 L476.9 295.3 L477.8 297.1 L478.8 297.7 L479.8 294.0 L480.7 293.9 L481.6 294.8 L482.6 293.3 L483.5 294.3 L484.5 292.5 L485.4 290.7 L486.4 292.9 L487.3 289.6 L488.3 291.6 L489.2 292.0 L490.2 291.5 L491.1 289.7 L492.1 288.8 L493.0 289.7 L494.0 289.7 L494.9 291.4 L495.9 288.5 L496.8 288.8 L497.8 290.5 L498.8 289.1 L499.7 288.0 L500.6 287.0 L501.6 285.6 L502.5 289.1 L503.5 290.0 L504.4 293.6 L505.4 295.1 L506.3 297.0 L507.3 296.9 L508.2 298.4 L509.2 296.6 L510.1 294.3 L511.1 294.2 L512.0 291.5 L513.0 291.0 L513.9 290.4 L514.9 288.7 L515.9 289.5 L516.8 286.5 L517.8 286.8 L518.7 286.0 L519.6 287.3 L520.6 284.7 L521.5 283.5 L522.5 281.0 L523.4 284.8 L524.4 284.2 L525.4 281.7 L526.3 280.8 L527.2 279.1 L528.2 278.7 L529.1 279.9 L530.1 281.6 L531.0 278.3 L532.0 277.6 L532.9 279.4 L533.9 276.9 L534.9 279.7 L535.8 275.4 L536.8 274.8 L537.7 272.0 L538.6 270.7 L539.6 270.3 L540.5 271.2 L541.5 266.4 L542.4 265.5 L543.4 265.3 L544.4 265.0 L545.3 264.6 L546.2 263.8 L547.2 262.7 L548.1 263.1 L549.1 262.8 L550.0 261.1 L551.0 257.0 L551.9 253.0 L552.9 255.5 L553.9 254.2 L554.8 253.9 L555.8 254.9 L556.7 248.2 L557.6 247.7 L558.6 248.1 L559.5 244.0 L560.5 239.7 L561.4 239.2 L562.4 243.4 L563.4 242.3 L564.3 244.0 L565.2 243.8 L566.2 239.3 L567.1 239.2 L568.1 235.3 L569.0 235.0 L570.0 235.9 L570.9 237.9 L571.9 239.9 L572.9 243.4 L573.8 247.5 L574.8 253.1 L575.7 252.9 L576.6 256.4 L577.6 258.7 L578.5 255.0 L579.5 252.4 L580.4 246.1 L581.4 244.4 L582.4 239.0 L583.3 236.9 L584.2 234.9 L585.2 234.5 L586.1 241.8 L587.1 240.9 L588.0 237.2 L589.0 232.6 L589.9 226.8 L590.9 228.6 L591.9 231.5 L592.8 234.1 L593.8 235.7 L594.7 232.0 L595.6 225.7 L596.6 226.7 L597.5 230.8 L598.5 225.2 L599.4 222.7 L600.4 221.3 L601.4 218.3 L602.3 214.8 L603.2 212.1 L604.2 201.1 L605.1 205.5 L606.1 223.5 L607.0 237.2 L608.0 238.9 L608.9 226.8 L609.9 214.8 L610.9 206.1 L611.8 199.7 L612.8 193.5 L613.7 193.9 L614.6 183.4 L615.6 177.9 L616.5 179.1 L617.5 163.9 L618.4 166.4 L619.4 170.7 L620.4 168.7 L621.3 155.1 L622.2 163.5 L623.2 169.0 L624.1 150.2 L625.1 145.3 L626.0 137.3 L627.0 134.1 L627.9 131.9 L628.9 144.5 L629.9 142.4 L630.8 132.6 L631.8 118.8 L632.7 125.4 L633.6 125.8 L634.6 125.6 L635.5 118.4 L636.5 114.6 L637.4 111.6 L638.4 101.5 L639.4 97.5 L640.3 94.0 L641.2 92.6 L642.2 96.3 L643.1 103.1 L644.1 96.1 L645.0 78.8 L646.0 79.4 L646.9 75.1 L647.9 73.8 L648.9 83.7 L649.8 74.6 L650.8 87.5 L651.7 95.9 L652.6 102.5 L653.6 114.9 L654.5 110.9 L655.5 109.2 L656.4 120.9 L657.4 128.8 L658.4 138.8 L659.3 152.6 L660.2 148.6 L661.2 150.2 L662.1 154.6 L663.1 142.0 L664.0 139.5 L665.0 128.0 L665.9 135.7 L666.9 151.4 L667.9 165.9 L668.8 172.9 L669.8 178.7 L670.7 171.4 L671.6 165.7 L672.6 168.1 L673.5 175.2 L674.5 174.1 L675.4 167.5 L676.0 164.4" stroke="#1fc3dc" stroke-width="2.1"/>
  </g>
  <path d="M6.0 389.6h1.0v3.4h-1.0z M8.0 388.9h1.0v4.1h-1.0z M11.0 389.5h1.0v3.5h-1.0z M14.5 388.8h1.0v4.2h-1.0z M15.5 388.4h1.0v4.6h-1.0z M16.5 388.7h1.0v4.3h-1.0z M18.5 389.3h1.0v3.7h-1.0z M22.5 388.1h1.0v4.9h-1.0z M23.5 388.8h1.0v4.2h-1.0z M24.5 388.0h1.0v5.0h-1.0z M25.5 388.1h1.0v4.9h-1.0z M26.5 387.9h1.0v5.1h-1.0z M27.5 388.4h1.0v4.6h-1.0z M28.5 388.4h1.0v4.6h-1.0z M29.5 388.4h1.0v4.6h-1.0z M30.5 387.4h1.0v5.6h-1.0z M32.5 388.9h1.0v4.1h-1.0z M34.0 387.6h1.0v5.4h-1.0z M36.0 388.8h1.0v4.2h-1.0z M38.0 387.4h1.0v5.6h-1.0z M39.0 388.3h1.0v4.7h-1.0z M40.0 387.5h1.0v5.5h-1.0z M41.0 387.6h1.0v5.4h-1.0z M42.0 387.7h1.0v5.3h-1.0z M45.0 388.1h1.0v4.9h-1.0z M48.0 387.2h1.0v5.8h-1.0z M49.0 387.7h1.0v5.3h-1.0z M51.0 388.3h1.0v4.7h-1.0z M56.0 388.2h1.0v4.8h-1.0z M57.0 386.4h1.0v6.6h-1.0z M60.0 386.5h1.0v6.5h-1.0z M62.0 387.3h1.0v5.7h-1.0z M68.0 385.8h1.0v7.2h-1.0z M69.0 387.2h1.0v5.8h-1.0z M70.5 386.0h1.0v7.0h-1.0z M71.5 386.5h1.0v6.5h-1.0z M72.5 386.1h1.0v6.9h-1.0z M74.5 385.5h1.0v7.5h-1.0z M75.0 386.9h1.0v6.1h-1.0z M76.5 385.2h1.0v7.8h-1.0z M78.5 385.3h1.0v7.7h-1.0z M81.0 385.0h1.0v8.0h-1.0z M81.5 385.7h1.0v7.3h-1.0z M82.5 385.5h1.0v7.5h-1.0z M87.0 384.7h1.0v8.3h-1.0z M89.0 386.2h1.0v6.8h-1.0z M92.5 386.1h1.0v6.9h-1.0z M98.5 385.1h1.0v7.9h-1.0z M99.5 385.0h1.0v8.0h-1.0z M100.0 384.6h1.0v8.4h-1.0z M101.0 384.7h1.0v8.3h-1.0z M104.5 383.5h1.0v9.5h-1.0z M106.5 384.6h1.0v8.4h-1.0z M107.5 384.6h1.0v8.4h-1.0z M108.0 383.7h1.0v9.3h-1.0z M110.0 383.7h1.0v9.3h-1.0z M113.0 382.2h1.0v10.8h-1.0z M116.0 382.9h1.0v10.1h-1.0z M119.0 383.0h1.0v10.0h-1.0z M119.5 382.3h1.0v10.7h-1.0z M123.5 381.7h1.0v11.3h-1.0z M127.0 379.4h1.0v13.6h-1.0z M127.5 379.4h1.0v13.6h-1.0z M128.5 379.4h1.0v13.6h-1.0z M129.5 382.4h1.0v10.6h-1.0z M138.5 381.8h1.0v11.2h-1.0z M139.5 381.6h1.0v11.4h-1.0z M140.0 378.4h1.0v14.6h-1.0z M142.0 378.9h1.0v14.1h-1.0z M143.0 380.3h1.0v12.7h-1.0z M144.0 379.5h1.0v13.5h-1.0z M145.0 378.4h1.0v14.6h-1.0z M146.0 380.4h1.0v12.6h-1.0z M147.0 379.3h1.0v13.7h-1.0z M148.0 380.5h1.0v12.5h-1.0z M149.0 379.3h1.0v13.7h-1.0z M149.5 378.2h1.0v14.8h-1.0z M151.5 381.1h1.0v11.9h-1.0z M153.0 380.7h1.0v12.3h-1.0z M153.5 380.2h1.0v12.8h-1.0z M156.5 379.0h1.0v14.0h-1.0z M158.5 376.8h1.0v16.2h-1.0z M159.5 372.0h1.0v21.0h-1.0z M160.5 377.7h1.0v15.3h-1.0z M166.0 378.7h1.0v14.3h-1.0z M168.0 376.2h1.0v16.8h-1.0z M169.0 377.9h1.0v15.1h-1.0z M169.5 378.4h1.0v14.6h-1.0z M171.0 380.6h1.0v12.4h-1.0z M172.0 377.5h1.0v15.5h-1.0z M173.0 380.3h1.0v12.7h-1.0z M175.5 376.8h1.0v16.2h-1.0z M176.5 380.2h1.0v12.8h-1.0z M178.5 377.2h1.0v15.8h-1.0z M179.5 370.0h1.0v23.0h-1.0z M188.5 375.5h1.0v17.5h-1.0z M189.5 380.0h1.0v13.0h-1.0z M190.5 376.8h1.0v16.2h-1.0z M191.0 379.7h1.0v13.3h-1.0z M192.5 377.5h1.0v15.5h-1.0z M194.0 375.8h1.0v17.2h-1.0z M196.0 375.8h1.0v17.2h-1.0z M197.5 377.7h1.0v15.3h-1.0z M198.5 377.5h1.0v15.5h-1.0z M203.0 378.4h1.0v14.6h-1.0z M203.5 376.4h1.0v16.6h-1.0z M204.5 378.2h1.0v14.8h-1.0z M205.5 377.5h1.0v15.5h-1.0z M207.5 377.9h1.0v15.1h-1.0z M210.5 375.5h1.0v17.5h-1.0z M213.5 376.7h1.0v16.3h-1.0z M214.5 378.0h1.0v15.0h-1.0z M215.5 375.0h1.0v18.0h-1.0z M217.5 378.4h1.0v14.6h-1.0z M218.0 375.6h1.0v17.4h-1.0z M218.5 375.4h1.0v17.6h-1.0z M225.0 377.3h1.0v15.7h-1.0z M226.0 378.3h1.0v14.7h-1.0z M227.0 375.9h1.0v17.1h-1.0z M228.0 377.3h1.0v15.7h-1.0z M232.5 377.8h1.0v15.2h-1.0z M233.0 378.3h1.0v14.7h-1.0z M234.0 376.3h1.0v16.7h-1.0z M235.0 374.6h1.0v18.4h-1.0z M237.5 374.5h1.0v18.5h-1.0z M238.5 376.8h1.0v16.2h-1.0z M239.5 378.2h1.0v14.8h-1.0z M241.0 374.8h1.0v18.2h-1.0z M242.5 376.2h1.0v16.8h-1.0z M243.5 375.1h1.0v17.9h-1.0z M244.5 373.8h1.0v19.2h-1.0z M246.0 374.9h1.0v18.1h-1.0z M248.0 372.4h1.0v20.6h-1.0z M249.5 372.7h1.0v20.3h-1.0z M250.0 376.9h1.0v16.1h-1.0z M251.0 370.8h1.0v22.2h-1.0z M253.5 374.0h1.0v19.0h-1.0z M257.0 370.7h1.0v22.3h-1.0z M258.5 370.9h1.0v22.1h-1.0z M260.5 367.8h1.0v25.2h-1.0z M263.0 372.1h1.0v20.9h-1.0z M265.0 368.0h1.0v25.0h-1.0z M266.0 372.7h1.0v20.3h-1.0z M268.0 371.6h1.0v21.4h-1.0z M269.0 368.0h1.0v25.0h-1.0z M271.0 369.0h1.0v24.0h-1.0z M272.0 364.5h1.0v28.5h-1.0z M276.5 369.0h1.0v24.0h-1.0z M277.0 365.5h1.0v27.5h-1.0z M278.0 369.2h1.0v23.8h-1.0z M280.0 365.7h1.0v27.3h-1.0z M281.0 365.2h1.0v27.8h-1.0z M282.0 365.0h1.0v28.0h-1.0z M283.0 362.9h1.0v30.1h-1.0z M285.0 365.3h1.0v27.7h-1.0z M287.0 363.9h1.0v29.1h-1.0z M287.5 363.3h1.0v29.7h-1.0z M289.5 361.3h1.0v31.7h-1.0z M291.5 363.8h1.0v29.2h-1.0z M294.5 366.1h1.0v26.9h-1.0z M295.5 366.0h1.0v27.0h-1.0z M298.0 360.3h1.0v32.7h-1.0z M300.0 361.6h1.0v31.4h-1.0z M303.0 356.6h1.0v36.4h-1.0z M308.0 362.6h1.0v30.4h-1.0z M310.0 357.2h1.0v35.8h-1.0z M312.0 352.3h1.0v40.7h-1.0z M314.0 351.0h1.0v42.0h-1.0z M316.0 361.5h1.0v31.5h-1.0z M316.5 361.0h1.0v32.0h-1.0z M319.5 359.8h1.0v33.2h-1.0z M321.0 346.5h1.0v46.5h-1.0z M322.5 343.0h1.0v50.0h-1.0z M323.5 346.4h1.0v46.6h-1.0z M324.5 342.6h1.0v50.4h-1.0z M325.0 330.0h1.0v63.0h-1.0z M328.0 328.3h1.0v64.7h-1.0z M330.5 304.0h1.0v89.0h-1.0z M331.5 323.5h1.0v69.5h-1.0z M332.5 326.4h1.0v66.6h-1.0z M336.0 332.7h1.0v60.3h-1.0z M337.0 314.8h1.0v78.2h-1.0z M338.0 333.0h1.0v60.0h-1.0z M339.0 336.0h1.0v57.0h-1.0z M342.5 324.6h1.0v68.4h-1.0z M345.5 332.8h1.0v60.2h-1.0z M349.0 328.8h1.0v64.2h-1.0z M351.0 336.9h1.0v56.1h-1.0z M352.0 348.1h1.0v44.9h-1.0z M353.5 343.4h1.0v49.6h-1.0z M355.5 350.3h1.0v42.7h-1.0z M358.0 350.9h1.0v42.1h-1.0z M359.0 353.8h1.0v39.2h-1.0z M361.0 348.5h1.0v44.5h-1.0z M363.0 351.3h1.0v41.7h-1.0z M364.0 349.9h1.0v43.1h-1.0z M365.0 351.1h1.0v41.9h-1.0z M366.0 356.3h1.0v36.7h-1.0z M369.0 352.7h1.0v40.3h-1.0z M370.0 353.5h1.0v39.5h-1.0z M371.0 352.1h1.0v40.9h-1.0z M374.0 357.1h1.0v35.9h-1.0z M375.0 359.6h1.0v33.4h-1.0z M377.0 356.7h1.0v36.3h-1.0z M380.0 359.9h1.0v33.1h-1.0z M384.0 359.7h1.0v33.3h-1.0z M385.0 359.8h1.0v33.2h-1.0z M386.5 356.1h1.0v36.9h-1.0z M387.5 358.3h1.0v34.7h-1.0z M388.0 353.2h1.0v39.8h-1.0z M390.0 358.9h1.0v34.1h-1.0z M392.5 351.6h1.0v41.4h-1.0z M393.5 353.0h1.0v40.0h-1.0z M395.5 350.1h1.0v42.9h-1.0z M397.5 355.4h1.0v37.6h-1.0z M398.5 351.3h1.0v41.7h-1.0z M399.5 357.8h1.0v35.2h-1.0z M401.5 354.3h1.0v38.7h-1.0z M402.0 351.4h1.0v41.6h-1.0z M404.0 357.0h1.0v36.0h-1.0z M404.5 354.5h1.0v38.5h-1.0z M405.0 359.7h1.0v33.3h-1.0z M407.0 355.7h1.0v37.3h-1.0z M409.5 352.8h1.0v40.2h-1.0z M411.5 348.3h1.0v44.7h-1.0z M412.5 352.0h1.0v41.0h-1.0z M414.5 353.1h1.0v39.9h-1.0z M415.0 352.1h1.0v40.9h-1.0z M418.5 357.6h1.0v35.4h-1.0z M422.5 351.0h1.0v42.0h-1.0z M424.5 358.4h1.0v34.6h-1.0z M427.0 350.4h1.0v42.6h-1.0z M430.0 361.1h1.0v31.9h-1.0z M431.5 353.0h1.0v40.0h-1.0z M432.0 351.3h1.0v41.7h-1.0z M433.0 355.0h1.0v38.0h-1.0z M435.0 360.7h1.0v32.3h-1.0z M435.5 359.4h1.0v33.6h-1.0z M437.5 359.1h1.0v33.9h-1.0z M438.0 354.7h1.0v38.3h-1.0z M440.0 352.0h1.0v41.0h-1.0z M442.5 360.7h1.0v32.3h-1.0z M446.0 355.0h1.0v38.0h-1.0z M446.5 353.6h1.0v39.4h-1.0z M448.0 352.8h1.0v40.2h-1.0z M449.0 359.5h1.0v33.5h-1.0z M450.0 360.2h1.0v32.8h-1.0z M452.5 355.2h1.0v37.8h-1.0z M454.0 351.2h1.0v41.8h-1.0z M456.0 356.2h1.0v36.8h-1.0z M457.5 350.8h1.0v42.2h-1.0z M458.5 360.6h1.0v32.4h-1.0z M460.5 361.8h1.0v31.2h-1.0z M461.5 361.7h1.0v31.3h-1.0z M466.0 362.0h1.0v31.0h-1.0z M466.5 357.3h1.0v35.7h-1.0z M467.0 352.0h1.0v41.0h-1.0z M468.0 357.6h1.0v35.4h-1.0z M468.5 354.5h1.0v38.5h-1.0z M469.5 352.6h1.0v40.4h-1.0z M471.5 357.4h1.0v35.6h-1.0z M472.0 357.4h1.0v35.6h-1.0z M473.0 356.8h1.0v36.2h-1.0z M475.0 361.5h1.0v31.5h-1.0z M479.0 351.5h1.0v41.5h-1.0z M480.0 345.0h1.0v48.0h-1.0z M481.5 350.2h1.0v42.8h-1.0z M485.0 356.1h1.0v36.9h-1.0z M486.0 355.3h1.0v37.7h-1.0z M487.0 355.1h1.0v37.9h-1.0z M489.0 349.8h1.0v43.2h-1.0z M490.0 357.4h1.0v35.6h-1.0z M490.5 359.1h1.0v33.9h-1.0z M492.5 360.1h1.0v32.9h-1.0z M494.0 348.9h1.0v44.1h-1.0z M495.0 352.5h1.0v40.5h-1.0z M496.5 359.0h1.0v34.0h-1.0z M498.5 350.3h1.0v42.7h-1.0z M500.5 351.3h1.0v41.7h-1.0z M501.0 359.1h1.0v33.9h-1.0z M501.5 349.3h1.0v43.7h-1.0z M502.0 359.9h1.0v33.1h-1.0z M504.0 349.9h1.0v43.1h-1.0z M505.0 354.6h1.0v38.4h-1.0z M507.0 361.1h1.0v31.9h-1.0z M508.5 352.4h1.0v40.6h-1.0z M510.5 359.6h1.0v33.4h-1.0z M511.0 353.5h1.0v39.5h-1.0z M512.0 361.1h1.0v31.9h-1.0z M513.0 351.8h1.0v41.2h-1.0z M513.5 351.4h1.0v41.6h-1.0z M514.5 353.2h1.0v39.8h-1.0z M515.5 357.6h1.0v35.4h-1.0z M516.5 349.2h1.0v43.8h-1.0z M519.0 352.5h1.0v40.5h-1.0z M521.0 355.4h1.0v37.6h-1.0z M523.5 360.9h1.0v32.1h-1.0z M524.0 356.1h1.0v36.9h-1.0z M527.0 350.9h1.0v42.1h-1.0z M529.5 365.4h1.0v27.6h-1.0z M530.5 371.9h1.0v21.1h-1.0z M533.0 371.5h1.0v21.5h-1.0z M534.0 367.4h1.0v25.6h-1.0z M537.0 372.0h1.0v21.0h-1.0z M540.5 369.2h1.0v23.8h-1.0z M541.5 373.7h1.0v19.3h-1.0z M543.0 374.1h1.0v18.9h-1.0z M544.0 369.3h1.0v23.7h-1.0z M545.0 374.4h1.0v18.6h-1.0z M546.0 371.3h1.0v21.7h-1.0z M546.5 369.3h1.0v23.7h-1.0z M548.5 373.8h1.0v19.2h-1.0z M549.5 368.9h1.0v24.1h-1.0z M552.5 372.1h1.0v20.9h-1.0z M553.5 369.4h1.0v23.6h-1.0z M556.5 372.4h1.0v20.6h-1.0z M557.5 373.3h1.0v19.7h-1.0z M560.5 372.5h1.0v20.5h-1.0z M561.0 373.7h1.0v19.3h-1.0z M562.5 372.1h1.0v20.9h-1.0z M563.5 374.2h1.0v18.8h-1.0z M564.0 372.5h1.0v20.5h-1.0z M565.0 370.3h1.0v22.7h-1.0z M565.5 371.9h1.0v21.1h-1.0z M566.5 370.2h1.0v22.8h-1.0z M569.0 369.5h1.0v23.5h-1.0z M570.5 375.1h1.0v17.9h-1.0z M572.0 371.0h1.0v22.0h-1.0z M574.0 372.8h1.0v20.2h-1.0z M574.5 373.3h1.0v19.7h-1.0z M578.0 371.2h1.0v21.8h-1.0z M579.0 371.6h1.0v21.4h-1.0z M581.0 374.5h1.0v18.5h-1.0z M582.0 373.1h1.0v19.9h-1.0z M583.0 370.2h1.0v22.8h-1.0z M585.5 370.9h1.0v22.1h-1.0z M586.5 369.5h1.0v23.5h-1.0z M587.5 373.6h1.0v19.4h-1.0z M588.5 374.8h1.0v18.2h-1.0z M589.5 375.7h1.0v17.3h-1.0z M593.5 370.7h1.0v22.3h-1.0z M594.5 373.6h1.0v19.4h-1.0z M598.0 371.3h1.0v21.7h-1.0z M599.0 371.3h1.0v21.7h-1.0z M599.5 373.7h1.0v19.3h-1.0z M600.5 374.4h1.0v18.6h-1.0z M602.0 370.0h1.0v23.0h-1.0z M604.0 373.6h1.0v19.4h-1.0z M605.0 371.1h1.0v21.9h-1.0z M606.0 346.0h1.0v47.0h-1.0z M611.5 366.3h1.0v26.7h-1.0z M612.5 362.6h1.0v30.4h-1.0z M613.5 363.8h1.0v29.2h-1.0z M615.0 361.2h1.0v31.8h-1.0z M617.5 368.1h1.0v24.9h-1.0z M619.0 367.8h1.0v25.2h-1.0z M620.5 364.8h1.0v28.2h-1.0z M622.5 369.7h1.0v23.3h-1.0z M623.5 370.6h1.0v22.4h-1.0z M624.0 364.9h1.0v28.1h-1.0z M625.0 371.0h1.0v22.0h-1.0z M628.0 367.8h1.0v25.2h-1.0z M631.0 366.4h1.0v26.6h-1.0z M632.0 371.1h1.0v21.9h-1.0z M632.5 370.4h1.0v22.6h-1.0z M636.0 364.4h1.0v28.6h-1.0z M637.0 364.2h1.0v28.8h-1.0z M638.0 369.7h1.0v23.3h-1.0z M639.0 368.8h1.0v24.2h-1.0z M641.0 372.2h1.0v20.8h-1.0z M643.0 369.3h1.0v23.7h-1.0z M644.5 371.8h1.0v21.2h-1.0z M645.0 367.9h1.0v25.1h-1.0z M646.0 364.5h1.0v28.5h-1.0z M647.0 371.0h1.0v22.0h-1.0z M650.5 370.6h1.0v22.4h-1.0z M654.0 368.2h1.0v24.8h-1.0z M655.0 368.8h1.0v24.2h-1.0z M656.0 363.4h1.0v29.6h-1.0z M661.0 371.1h1.0v21.9h-1.0z M662.0 367.8h1.0v25.2h-1.0z M664.0 363.3h1.0v29.7h-1.0z M666.0 369.5h1.0v23.5h-1.0z M670.5 368.2h1.0v24.8h-1.0z M673.5 370.0h1.0v23.0h-1.0z M675.5 369.2h1.0v23.8h-1.0z" fill="rgba(240,80,84,0.64)"/>
  <path d="M3.0 389.2h1.0v3.8h-1.0z M4.0 389.2h1.0v3.8h-1.0z M5.0 389.5h1.0v3.5h-1.0z M7.0 389.0h1.0v4.0h-1.0z M9.0 388.8h1.0v4.2h-1.0z M10.0 388.8h1.0v4.2h-1.0z M12.0 388.7h1.0v4.3h-1.0z M12.5 388.9h1.0v4.1h-1.0z M13.5 388.6h1.0v4.4h-1.0z M17.5 388.8h1.0v4.2h-1.0z M19.5 389.0h1.0v4.0h-1.0z M20.5 388.6h1.0v4.4h-1.0z M21.5 388.7h1.0v4.3h-1.0z M30.0 387.7h1.0v5.3h-1.0z M31.5 388.4h1.0v4.6h-1.0z M33.5 388.5h1.0v4.5h-1.0z M35.0 388.8h1.0v4.2h-1.0z M37.0 388.6h1.0v4.4h-1.0z M43.0 388.5h1.0v4.5h-1.0z M43.5 388.2h1.0v4.8h-1.0z M44.0 387.9h1.0v5.1h-1.0z M46.0 388.4h1.0v4.6h-1.0z M47.0 388.1h1.0v4.9h-1.0z M50.0 388.0h1.0v5.0h-1.0z M52.0 386.6h1.0v6.4h-1.0z M53.0 387.3h1.0v5.7h-1.0z M54.0 386.7h1.0v6.3h-1.0z M55.0 388.3h1.0v4.7h-1.0z M57.5 386.9h1.0v6.1h-1.0z M58.5 386.7h1.0v6.3h-1.0z M59.0 388.1h1.0v4.9h-1.0z M61.0 386.5h1.0v6.5h-1.0z M63.0 387.9h1.0v5.1h-1.0z M63.5 386.3h1.0v6.7h-1.0z M64.5 386.1h1.0v6.9h-1.0z M65.5 387.0h1.0v6.0h-1.0z M66.5 386.8h1.0v6.2h-1.0z M67.0 386.6h1.0v6.4h-1.0z M69.5 387.4h1.0v5.6h-1.0z M73.5 385.7h1.0v7.3h-1.0z M75.5 385.5h1.0v7.5h-1.0z M77.5 387.0h1.0v6.0h-1.0z M79.5 385.6h1.0v7.4h-1.0z M80.5 386.4h1.0v6.6h-1.0z M83.5 386.9h1.0v6.1h-1.0z M84.5 385.0h1.0v8.0h-1.0z M85.5 385.7h1.0v7.3h-1.0z M86.0 384.4h1.0v8.6h-1.0z M88.0 384.8h1.0v8.2h-1.0z M89.5 385.3h1.0v7.7h-1.0z M90.5 385.6h1.0v7.4h-1.0z M91.5 386.3h1.0v6.7h-1.0z M93.5 385.4h1.0v7.6h-1.0z M94.0 385.1h1.0v7.9h-1.0z M95.0 386.0h1.0v7.0h-1.0z M96.0 385.6h1.0v7.4h-1.0z M97.0 383.5h1.0v9.5h-1.0z M97.5 385.4h1.0v7.6h-1.0z M101.5 383.9h1.0v9.1h-1.0z M102.5 385.4h1.0v7.6h-1.0z M103.5 383.0h1.0v10.0h-1.0z M105.0 383.2h1.0v9.8h-1.0z M106.0 384.0h1.0v9.0h-1.0z M109.0 383.9h1.0v9.1h-1.0z M111.0 383.6h1.0v9.4h-1.0z M112.0 383.7h1.0v9.3h-1.0z M114.0 384.2h1.0v8.8h-1.0z M115.0 383.9h1.0v9.1h-1.0z M117.0 382.2h1.0v10.8h-1.0z M118.0 381.5h1.0v11.5h-1.0z M120.5 383.0h1.0v10.0h-1.0z M121.5 380.0h1.0v13.0h-1.0z M122.5 380.5h1.0v12.5h-1.0z M124.5 381.0h1.0v12.0h-1.0z M125.5 381.0h1.0v12.0h-1.0z M126.5 382.1h1.0v10.9h-1.0z M130.5 382.4h1.0v10.6h-1.0z M131.5 380.6h1.0v12.4h-1.0z M132.5 381.1h1.0v11.9h-1.0z M133.5 382.3h1.0v10.7h-1.0z M134.0 378.9h1.0v14.1h-1.0z M135.0 379.7h1.0v13.3h-1.0z M135.5 380.5h1.0v12.5h-1.0z M136.5 379.2h1.0v13.8h-1.0z M137.5 382.3h1.0v10.7h-1.0z M141.0 381.7h1.0v11.3h-1.0z M150.5 378.4h1.0v14.6h-1.0z M152.0 378.2h1.0v14.8h-1.0z M154.0 377.1h1.0v15.9h-1.0z M155.0 380.5h1.0v12.5h-1.0z M155.5 380.0h1.0v13.0h-1.0z M157.5 378.4h1.0v14.6h-1.0z M161.0 380.0h1.0v13.0h-1.0z M162.0 376.6h1.0v16.4h-1.0z M163.0 378.1h1.0v14.9h-1.0z M164.0 378.4h1.0v14.6h-1.0z M165.0 379.1h1.0v13.9h-1.0z M167.0 378.3h1.0v14.7h-1.0z M170.0 377.5h1.0v15.5h-1.0z M174.0 380.3h1.0v12.7h-1.0z M174.5 380.1h1.0v12.9h-1.0z M177.5 379.6h1.0v13.4h-1.0z M180.5 370.0h1.0v23.0h-1.0z M181.5 377.1h1.0v15.9h-1.0z M182.5 378.3h1.0v14.7h-1.0z M183.5 375.3h1.0v17.7h-1.0z M184.5 377.7h1.0v15.3h-1.0z M185.0 376.1h1.0v16.9h-1.0z M185.5 378.7h1.0v14.3h-1.0z M186.5 376.8h1.0v16.2h-1.0z M187.5 375.2h1.0v17.8h-1.0z M192.0 377.2h1.0v15.8h-1.0z M193.0 378.2h1.0v14.8h-1.0z M195.0 377.7h1.0v15.3h-1.0z M196.5 378.5h1.0v14.5h-1.0z M199.5 377.7h1.0v15.3h-1.0z M200.5 378.4h1.0v14.6h-1.0z M201.5 378.3h1.0v14.7h-1.0z M202.5 376.3h1.0v16.7h-1.0z M205.0 377.6h1.0v15.4h-1.0z M206.5 379.4h1.0v13.6h-1.0z M208.5 375.6h1.0v17.4h-1.0z M209.0 375.6h1.0v17.4h-1.0z M210.0 378.9h1.0v14.1h-1.0z M211.5 376.9h1.0v16.1h-1.0z M212.5 376.3h1.0v16.7h-1.0z M216.5 379.2h1.0v13.8h-1.0z M219.5 377.0h1.0v16.0h-1.0z M220.5 375.9h1.0v17.1h-1.0z M221.5 375.6h1.0v17.4h-1.0z M222.0 375.1h1.0v17.9h-1.0z M223.0 374.9h1.0v18.1h-1.0z M224.0 376.8h1.0v16.2h-1.0z M229.0 377.0h1.0v16.0h-1.0z M229.5 376.1h1.0v16.9h-1.0z M230.5 374.6h1.0v18.4h-1.0z M231.5 376.4h1.0v16.6h-1.0z M235.5 376.1h1.0v16.9h-1.0z M236.5 374.8h1.0v18.2h-1.0z M240.5 373.9h1.0v19.1h-1.0z M242.0 373.9h1.0v19.1h-1.0z M245.5 374.3h1.0v18.7h-1.0z M247.0 377.7h1.0v15.3h-1.0z M248.5 373.5h1.0v19.5h-1.0z M252.0 375.1h1.0v17.9h-1.0z M253.0 375.2h1.0v17.8h-1.0z M254.0 369.3h1.0v23.7h-1.0z M255.0 373.3h1.0v19.7h-1.0z M256.0 370.9h1.0v22.1h-1.0z M258.0 370.0h1.0v23.0h-1.0z M259.5 368.5h1.0v24.5h-1.0z M261.5 367.3h1.0v25.7h-1.0z M262.0 368.5h1.0v24.5h-1.0z M264.0 371.3h1.0v21.7h-1.0z M267.0 372.2h1.0v20.8h-1.0z M270.0 372.3h1.0v20.7h-1.0z M273.0 365.6h1.0v27.4h-1.0z M274.0 367.7h1.0v25.3h-1.0z M275.0 365.4h1.0v27.6h-1.0z M275.5 363.1h1.0v29.9h-1.0z M278.5 363.6h1.0v29.4h-1.0z M279.5 368.4h1.0v24.6h-1.0z M284.0 364.5h1.0v28.5h-1.0z M284.5 368.8h1.0v24.2h-1.0z M286.0 367.1h1.0v25.9h-1.0z M288.5 366.1h1.0v26.9h-1.0z M290.5 366.7h1.0v26.3h-1.0z M292.5 365.0h1.0v28.0h-1.0z M293.5 361.7h1.0v31.3h-1.0z M296.5 365.5h1.0v27.5h-1.0z M297.0 364.7h1.0v28.3h-1.0z M299.0 362.6h1.0v30.4h-1.0z M301.0 358.2h1.0v34.8h-1.0z M302.0 356.9h1.0v36.1h-1.0z M304.0 355.3h1.0v37.7h-1.0z M305.0 350.0h1.0v43.0h-1.0z M305.5 356.7h1.0v36.3h-1.0z M306.5 357.7h1.0v35.3h-1.0z M307.0 354.2h1.0v38.8h-1.0z M309.0 352.3h1.0v40.7h-1.0z M310.5 355.4h1.0v37.6h-1.0z M311.5 350.9h1.0v42.1h-1.0z M313.0 359.7h1.0v33.3h-1.0z M315.0 360.3h1.0v32.7h-1.0z M317.5 349.5h1.0v43.5h-1.0z M318.5 358.9h1.0v34.1h-1.0z M320.0 356.2h1.0v36.8h-1.0z M322.0 354.2h1.0v38.8h-1.0z M326.0 343.1h1.0v49.9h-1.0z M327.0 322.0h1.0v71.0h-1.0z M329.0 326.4h1.0v66.6h-1.0z M329.5 304.0h1.0v89.0h-1.0z M333.5 315.0h1.0v78.0h-1.0z M334.0 315.0h1.0v78.0h-1.0z M335.0 330.1h1.0v62.9h-1.0z M339.5 330.3h1.0v62.7h-1.0z M340.5 326.1h1.0v66.9h-1.0z M341.5 324.6h1.0v68.4h-1.0z M343.5 318.0h1.0v75.0h-1.0z M344.5 318.0h1.0v75.0h-1.0z M346.5 327.5h1.0v65.5h-1.0z M347.5 335.3h1.0v57.7h-1.0z M348.5 328.3h1.0v64.7h-1.0z M350.0 330.9h1.0v62.1h-1.0z M352.5 335.8h1.0v57.2h-1.0z M354.5 338.9h1.0v54.1h-1.0z M356.0 340.2h1.0v52.8h-1.0z M357.0 350.4h1.0v42.6h-1.0z M360.0 353.2h1.0v39.8h-1.0z M362.0 345.1h1.0v47.9h-1.0z M367.0 346.7h1.0v46.3h-1.0z M368.0 320.0h1.0v73.0h-1.0z M372.0 348.8h1.0v44.2h-1.0z M373.0 346.1h1.0v46.9h-1.0z M375.5 352.1h1.0v40.9h-1.0z M376.0 353.5h1.0v39.5h-1.0z M378.0 350.6h1.0v42.4h-1.0z M379.0 350.2h1.0v42.8h-1.0z M381.0 354.3h1.0v38.7h-1.0z M382.0 355.9h1.0v37.1h-1.0z M383.0 356.2h1.0v36.8h-1.0z M386.0 353.9h1.0v39.1h-1.0z M389.0 355.1h1.0v37.9h-1.0z M391.0 358.4h1.0v34.6h-1.0z M392.0 352.8h1.0v40.2h-1.0z M394.5 347.8h1.0v45.2h-1.0z M396.5 358.8h1.0v34.2h-1.0z M400.5 353.7h1.0v39.3h-1.0z M403.0 359.0h1.0v34.0h-1.0z M405.5 349.1h1.0v43.9h-1.0z M406.0 350.1h1.0v42.9h-1.0z M407.5 360.3h1.0v32.7h-1.0z M408.5 350.7h1.0v42.3h-1.0z M410.5 350.0h1.0v43.0h-1.0z M413.5 356.2h1.0v36.8h-1.0z M416.0 349.0h1.0v44.0h-1.0z M417.0 357.8h1.0v35.2h-1.0z M418.0 352.9h1.0v40.1h-1.0z M419.5 357.0h1.0v36.0h-1.0z M420.5 352.3h1.0v40.7h-1.0z M421.5 359.1h1.0v33.9h-1.0z M423.5 357.7h1.0v35.3h-1.0z M425.0 352.5h1.0v40.5h-1.0z M426.0 350.4h1.0v42.6h-1.0z M428.0 355.2h1.0v37.8h-1.0z M429.0 359.7h1.0v33.3h-1.0z M431.0 358.7h1.0v34.3h-1.0z M434.0 354.4h1.0v38.6h-1.0z M436.5 356.5h1.0v36.5h-1.0z M439.0 361.9h1.0v31.1h-1.0z M440.5 353.8h1.0v39.2h-1.0z M441.5 357.8h1.0v35.2h-1.0z M443.5 353.2h1.0v39.8h-1.0z M444.0 360.2h1.0v32.8h-1.0z M445.0 353.8h1.0v39.2h-1.0z M447.5 353.3h1.0v39.7h-1.0z M450.5 360.7h1.0v32.3h-1.0z M451.0 356.8h1.0v36.2h-1.0z M452.0 362.5h1.0v30.5h-1.0z M453.0 357.4h1.0v35.6h-1.0z M455.0 358.0h1.0v35.0h-1.0z M456.5 359.5h1.0v33.5h-1.0z M459.5 356.1h1.0v36.9h-1.0z M460.0 358.2h1.0v34.8h-1.0z M462.0 352.5h1.0v40.5h-1.0z M463.0 357.5h1.0v35.5h-1.0z M464.0 350.8h1.0v42.2h-1.0z M465.0 359.1h1.0v33.9h-1.0z M470.5 355.0h1.0v38.0h-1.0z M474.0 357.7h1.0v35.3h-1.0z M476.0 345.0h1.0v48.0h-1.0z M477.0 355.8h1.0v37.2h-1.0z M478.0 356.6h1.0v36.4h-1.0z M480.5 345.0h1.0v48.0h-1.0z M482.0 350.5h1.0v42.5h-1.0z M483.0 355.3h1.0v37.7h-1.0z M484.0 360.1h1.0v32.9h-1.0z M488.0 355.9h1.0v37.1h-1.0z M491.5 360.8h1.0v32.2h-1.0z M493.5 351.0h1.0v42.0h-1.0z M495.5 355.7h1.0v37.3h-1.0z M497.5 360.5h1.0v32.5h-1.0z M499.5 350.6h1.0v42.4h-1.0z M503.0 361.0h1.0v32.0h-1.0z M506.0 354.2h1.0v38.8h-1.0z M507.5 350.6h1.0v42.4h-1.0z M509.5 359.1h1.0v33.9h-1.0z M517.5 358.1h1.0v34.9h-1.0z M518.0 359.6h1.0v33.4h-1.0z M520.0 356.2h1.0v36.8h-1.0z M522.0 356.8h1.0v36.2h-1.0z M522.5 357.3h1.0v35.7h-1.0z M525.0 350.6h1.0v42.4h-1.0z M526.0 344.0h1.0v49.0h-1.0z M528.0 351.7h1.0v41.3h-1.0z M528.5 353.1h1.0v39.9h-1.0z M531.0 371.1h1.0v21.9h-1.0z M532.0 367.5h1.0v25.5h-1.0z M535.0 369.9h1.0v23.1h-1.0z M536.0 370.9h1.0v22.1h-1.0z M538.0 374.1h1.0v18.9h-1.0z M539.0 373.6h1.0v19.4h-1.0z M539.5 370.0h1.0v23.0h-1.0z M542.0 368.0h1.0v25.0h-1.0z M547.5 371.6h1.0v21.4h-1.0z M550.5 374.0h1.0v19.0h-1.0z M551.5 372.1h1.0v20.9h-1.0z M554.5 374.0h1.0v19.0h-1.0z M555.5 372.3h1.0v20.7h-1.0z M558.5 372.9h1.0v20.1h-1.0z M559.5 371.2h1.0v21.8h-1.0z M562.0 372.6h1.0v20.4h-1.0z M567.5 375.4h1.0v17.6h-1.0z M568.5 372.9h1.0v20.1h-1.0z M570.0 373.2h1.0v19.8h-1.0z M571.0 371.3h1.0v21.7h-1.0z M573.0 373.5h1.0v19.5h-1.0z M575.5 370.1h1.0v22.9h-1.0z M576.5 368.6h1.0v24.4h-1.0z M577.5 371.3h1.0v21.7h-1.0z M580.0 372.8h1.0v20.2h-1.0z M584.0 370.0h1.0v23.0h-1.0z M584.5 371.2h1.0v21.8h-1.0z M590.5 374.5h1.0v18.5h-1.0z M591.5 372.5h1.0v20.5h-1.0z M592.5 372.4h1.0v20.6h-1.0z M595.0 373.4h1.0v19.6h-1.0z M596.0 372.9h1.0v20.1h-1.0z M597.0 373.6h1.0v19.4h-1.0z M601.0 373.6h1.0v19.4h-1.0z M603.0 369.6h1.0v23.4h-1.0z M605.5 346.0h1.0v47.0h-1.0z M607.0 358.3h1.0v34.7h-1.0z M607.5 352.0h1.0v41.0h-1.0z M608.5 354.1h1.0v38.9h-1.0z M609.0 364.3h1.0v28.7h-1.0z M610.0 357.1h1.0v35.9h-1.0z M610.5 363.1h1.0v29.9h-1.0z M611.0 360.9h1.0v32.1h-1.0z M613.0 365.4h1.0v27.6h-1.0z M614.0 361.2h1.0v31.8h-1.0z M616.0 364.3h1.0v28.7h-1.0z M617.0 365.7h1.0v27.3h-1.0z M618.0 365.4h1.0v27.6h-1.0z M620.0 364.3h1.0v28.7h-1.0z M621.5 367.4h1.0v25.6h-1.0z M626.0 364.0h1.0v29.0h-1.0z M627.0 368.6h1.0v24.4h-1.0z M629.0 364.5h1.0v28.5h-1.0z M630.0 368.7h1.0v24.3h-1.0z M633.5 364.1h1.0v28.9h-1.0z M634.5 365.1h1.0v27.9h-1.0z M635.5 367.1h1.0v25.9h-1.0z M640.0 366.5h1.0v26.5h-1.0z M642.0 364.1h1.0v28.9h-1.0z M644.0 372.1h1.0v20.9h-1.0z M648.0 370.4h1.0v22.6h-1.0z M649.0 370.2h1.0v22.8h-1.0z M649.5 367.2h1.0v25.8h-1.0z M651.0 367.9h1.0v25.1h-1.0z M652.0 366.4h1.0v26.6h-1.0z M653.0 371.4h1.0v21.6h-1.0z M657.0 368.2h1.0v24.8h-1.0z M658.0 368.8h1.0v24.2h-1.0z M659.0 363.9h1.0v29.1h-1.0z M660.0 367.5h1.0v25.5h-1.0z M663.0 369.6h1.0v23.4h-1.0z M665.0 370.0h1.0v23.0h-1.0z M667.0 363.4h1.0v29.6h-1.0z M668.0 367.9h1.0v25.1h-1.0z M668.5 369.8h1.0v23.2h-1.0z M669.5 364.6h1.0v28.4h-1.0z M671.5 368.5h1.0v24.5h-1.0z M672.5 364.1h1.0v28.9h-1.0z M674.5 362.5h1.0v30.5h-1.0z" fill="rgba(38,166,154,0.64)"/>
  <!-- crosshair -->
  <line x1="557" x2="557" y1="38" y2="393" stroke="#8a8d96" stroke-width="1" stroke-dasharray="4 5"/>
  <line x1="5" x2="684" y1="141.2" y2="141.2" stroke="#8a8d96" stroke-width="1" stroke-dasharray="4 5"/>
  <!-- price axis -->
  <g class="t" font-size="11" fill="#131722"><text x="692" y="53.8" textLength="41.1" lengthAdjust="spacingAndGlyphs">4000.00%</text><text x="692" y="85.2" textLength="41.1" lengthAdjust="spacingAndGlyphs">3600.00%</text><text x="692" y="116.7" textLength="41.1" lengthAdjust="spacingAndGlyphs">3200.00%</text><text x="692" y="211.0" textLength="41.1" lengthAdjust="spacingAndGlyphs">2000.00%</text><text x="692" y="242.4" textLength="41.1" lengthAdjust="spacingAndGlyphs">1600.00%</text><text x="692" y="273.9" textLength="41.1" lengthAdjust="spacingAndGlyphs">1200.00%</text><text x="692" y="336.8" textLength="36.0" lengthAdjust="spacingAndGlyphs">400.00%</text><text x="692" y="180.3" textLength="41.1" lengthAdjust="spacingAndGlyphs">2400.00%</text><text x="692" y="367.3" textLength="25.8" lengthAdjust="spacingAndGlyphs">0.00%</text></g>
  <!-- axis badges -->
  <rect x="684" y="133" width="54" height="17" rx="2" fill="#131722"/>
  <text class="t" x="712.5" y="145.5" text-anchor="middle" font-size="11" font-weight="bold" fill="#fff" textLength="41" lengthAdjust="spacingAndGlyphs">2837.90%</text>
  <rect x="654" y="157.5" width="28" height="14" rx="1" fill="#22bcd4"/>
  <text class="t" x="668" y="168.3" text-anchor="middle" font-size="11" fill="#131722" textLength="20" lengthAdjust="spacingAndGlyphs">NDQ</text>
  <rect x="684" y="157.5" width="59" height="14" rx="1" fill="#22bcd4"/>
  <text class="t" x="715.2" y="168.3" text-anchor="middle" font-size="11" fill="#131722" textLength="45" lengthAdjust="spacingAndGlyphs">+2543.01%</text>
  <rect x="660" y="286" width="22.5" height="14" rx="1" fill="#f57c00"/>
  <text class="t" x="671.3" y="297" text-anchor="middle" font-size="11" fill="#fff" textLength="14" lengthAdjust="spacingAndGlyphs">DJI</text>
  <rect x="684" y="286" width="54" height="14" rx="1" fill="#f57c00"/>
  <text class="t" x="712.5" y="297" text-anchor="middle" font-size="11" fill="#fff" textLength="41" lengthAdjust="spacingAndGlyphs">+759.80%</text>
  <rect x="657.3" y="300" width="25.2" height="13.5" rx="1" fill="#2962ff"/>
  <text class="t" x="670" y="311" text-anchor="middle" font-size="11" fill="#fff" textLength="17" lengthAdjust="spacingAndGlyphs">SPX</text>
  <rect x="684" y="300" width="54" height="13.5" rx="1" fill="#2962ff"/>
  <text class="t" x="712.5" y="311" text-anchor="middle" font-size="11" fill="#fff" textLength="41" lengthAdjust="spacingAndGlyphs">+723.84%</text>
  <rect x="683.6" y="363.6" width="48.8" height="14" rx="1" fill="#26a69a"/>
  <text class="t" x="710" y="374.8" text-anchor="middle" font-size="11" font-weight="bold" fill="#fff" textLength="35.5" lengthAdjust="spacingAndGlyphs">11.617B</text>
  <!-- lightning -->
  <circle cx="675.3" cy="382.5" r="7.6" fill="#fff" stroke="#9c27b0" stroke-width="1.7"/>
  <path d="M677.8 378.6 L673.2 382.2 L677.8 382.4 L673.3 386.4" fill="none" stroke="#9c27b0" stroke-width="1.6" stroke-linejoin="miter"/>
  <!-- time axis -->
  <g class="t" font-size="11" fill="#131722"><text x="47.0" y="408.3" text-anchor="middle" textLength="22.6" lengthAdjust="spacingAndGlyphs">1997</text><text x="119.2" y="408.3" text-anchor="middle" textLength="22.6" lengthAdjust="spacingAndGlyphs">2000</text><text x="191.3" y="408.3" text-anchor="middle" textLength="22.6" lengthAdjust="spacingAndGlyphs">2003</text><text x="263.8" y="408.3" text-anchor="middle" textLength="22.6" lengthAdjust="spacingAndGlyphs">2006</text><text x="337.0" y="408.3" text-anchor="middle" textLength="22.6" lengthAdjust="spacingAndGlyphs">2009</text><text x="409.0" y="408.3" text-anchor="middle" textLength="22.6" lengthAdjust="spacingAndGlyphs">2012</text><text x="482.0" y="408.3" text-anchor="middle" textLength="22.6" lengthAdjust="spacingAndGlyphs">2015</text><text x="626.6" y="408.3" text-anchor="middle" textLength="22.6" lengthAdjust="spacingAndGlyphs">2021</text></g>
  <path d="M513.6 393 H600.4 V410.2 a2 2 0 0 1 -2 2 H515.6 a2 2 0 0 1 -2 -2 Z" fill="#131722"/>
  <text x="520.6" y="408.8" font-size="10.2" font-weight="bold" fill="#fff">週一</text><text x="543.5" y="408.6" font-size="11.5" font-weight="bold" fill="#fff" textLength="49" lengthAdjust="spacingAndGlyphs">2018-02-12</text>
  <circle cx="715.5" cy="405" r="3.9" fill="none" stroke="#131722" stroke-width="1.5"/><path fill="#131722" d="M722.10 405.00 L719.49 403.68 L719.49 406.32 Z M720.17 409.67 L719.25 406.88 L717.38 408.75 Z M715.50 411.60 L716.82 408.99 L714.18 408.99 Z M710.83 409.67 L713.62 408.75 L711.75 406.88 Z M708.90 405.00 L711.51 406.32 L711.51 403.68 Z M710.83 400.33 L711.75 403.12 L713.62 401.25 Z M715.50 398.40 L714.18 401.01 L716.82 401.01 Z M720.17 400.33 L717.38 401.25 L719.25 403.12 Z "/>
  <line x1="3" x2="746" y1="416.5" y2="416.5" stroke="#e0e3eb" stroke-width="1"/>
  <!-- tv logo -->
  <rect x="8.5" y="362" width="87" height="25.5" rx="12.75" fill="#fff" stroke="#eceef2" stroke-width="1"/>
  <path d="M13.2 370.6 H21 V379.3 H16.6 V373.4 H13.2 Z M25.8 370.6 H31.2 L28.2 379.3 H23.6 Z" fill="#131722"/><circle cx="23" cy="372.2" r="1.35" fill="#131722"/>
  <text x="36" y="378.6" font-size="11" fill="#131722" textLength="52.5" lengthAdjust="spacingAndGlyphs">TradingView</text>
  <!-- legend -->
  <rect x="3" y="44" width="267" height="16" fill="#fff"/><rect x="3" y="62" width="143" height="25" fill="#fff"/>
  <g class="t" fill="#131722">
    <text y="57" font-size="13"><tspan x="10.3">標準普爾</tspan><tspan x="63">500</tspan><tspan x="84.8">指數</tspan><tspan x="121.3">1</tspan><tspan x="127">周</tspan><tspan x="150" textLength="14" lengthAdjust="spacingAndGlyphs">SP</tspan></text><circle cx="117" cy="52.3" r="1" fill="#131722"/><circle cx="145.7" cy="52.3" r="1" fill="#131722"/>
  </g>
  <rect x="183" y="44" width="33" height="14.7" rx="7.35" fill="#ebebee"/>
  <path d="M199.3 44 h9.35 a7.35 7.35 0 0 1 0 14.7 h-9.35 z" fill="#fadde1"/>
  <line x1="188.5" x2="195" y1="51.4" y2="51.4" stroke="#767983" stroke-width="2.6" stroke-linecap="round"/>
  <path d="M203.3 50.3 q1.8 -1.6 3.6 0 t3.6 0 M203.3 53.6 q1.8 -1.6 3.6 0 t3.6 0" fill="none" stroke="#c8424c" stroke-width="1.3"/>
  <text class="t" x="229" y="56.9" font-size="11" fill="#2f5fdc" textLength="38" lengthAdjust="spacingAndGlyphs">462.86%</text>
  <rect x="9.9" y="65.1" width="50.2" height="19" rx="3" fill="#fff" stroke="#dc7b7b" stroke-width="1.2"/>
  <text class="t" x="34.8" y="79" text-anchor="middle" font-size="11" fill="#d64f58" textLength="37.6" lengthAdjust="spacingAndGlyphs">3999.08</text>
  <text class="t" x="67" y="79" font-size="11" fill="#131722" textLength="18" lengthAdjust="spacingAndGlyphs">0.00</text>
  <rect x="92.1" y="65.1" width="50" height="19" rx="3" fill="#fff" stroke="#4f76dc" stroke-width="1.2"/>
  <text class="t" x="117" y="79" text-anchor="middle" font-size="11" fill="#2a5bd8" textLength="37.6" lengthAdjust="spacingAndGlyphs">3999.08</text>
  <text x="10.6" y="103.8" font-size="11" fill="#131722" textLength="31.4" lengthAdjust="spacingAndGlyphs">成交量</text>
  <text class="t" x="55" y="103.5" font-size="11" fill="#1f9d90" textLength="37" lengthAdjust="spacingAndGlyphs">11.704B</text>
  <text class="t" x="10.6" y="122" font-size="11" fill="#131722" textLength="32.4" lengthAdjust="spacingAndGlyphs">DJI, DJ</text>
  <text class="t" x="55.6" y="122" font-size="11" fill="#ee8a1c" textLength="38.4" lengthAdjust="spacingAndGlyphs">532.13%</text>
  <text class="t" x="10" y="142" font-size="11" fill="#131722" textLength="47" lengthAdjust="spacingAndGlyphs">NDQ, TVC</text>
  <text class="t" x="69" y="142" font-size="11" fill="#1bb5cc" textLength="44" lengthAdjust="spacingAndGlyphs">1450.49%</text>
  <rect x="10.9" y="149.9" width="22.4" height="16" rx="2.5" fill="#fff" stroke="#d6d8de" stroke-width="1"/>
  <path d="M19 159.5 l3 -3 l3 3" fill="none" stroke="#131722" stroke-width="1.6"/>
  <!-- toolbar -->
  <g font-size="12" fill="#131722">
    <text x="16" y="438" textLength="17" lengthAdjust="spacingAndGlyphs">1天</text>
    <text x="45" y="438" textLength="18" lengthAdjust="spacingAndGlyphs">5天</text>
    <text x="75" y="438" textLength="16" lengthAdjust="spacingAndGlyphs">1月</text>
    <text x="104" y="438" textLength="17" lengthAdjust="spacingAndGlyphs">3月</text>
    <text x="133" y="438" textLength="17" lengthAdjust="spacingAndGlyphs">6月</text>
    <text class="t" x="162.7" y="438" textLength="20" lengthAdjust="spacingAndGlyphs">YTD</text>
    <text x="195.2" y="438" textLength="16.3" lengthAdjust="spacingAndGlyphs">1年</text>
    <text x="224" y="438" textLength="16.8" lengthAdjust="spacingAndGlyphs">5年</text>
    <text x="253.3" y="438" textLength="22.7" lengthAdjust="spacingAndGlyphs">全部</text>
    <text class="t" x="550.6" y="438" textLength="88.8" lengthAdjust="spacingAndGlyphs">11:45:41 (UTC+8)</text>
    <text class="t" x="687.6" y="438" textLength="15" lengthAdjust="spacingAndGlyphs">log</text>
  </g>
  <line x1="289.9" x2="289.9" y1="423" y2="442" stroke="#e0e3eb" stroke-width="1"/>
  <line x1="653.4" x2="653.4" y1="423" y2="442" stroke="#e0e3eb" stroke-width="1"/>
  <text class="t" x="664" y="438" font-size="13" fill="#3d66e0" textLength="11" lengthAdjust="spacingAndGlyphs">%</text>
  <text x="716" y="438.5" font-size="11" fill="#4a70dc" textLength="21.5" lengthAdjust="spacingAndGlyphs">自動</text>
  <g fill="none" stroke="#131722" stroke-width="1.3">
    <path d="M304.6 431 V429.2 a2 2 0 0 1 2 -2 H316 a2 2 0 0 1 2 2 V436 a2 2 0 0 1 -2 2 H311.3"/>
    <path d="M304.6 430.6 H318"/>
    <path d="M303.6 435.5 H309.4 M306.7 432.6 L309.5 435.5 L306.7 438.4"/>
  </g>
  <circle cx="308.1" cy="427.3" r="1.1" fill="#131722"/><circle cx="314.2" cy="427.3" r="1.1" fill="#131722"/>
</svg>
</body></html>
